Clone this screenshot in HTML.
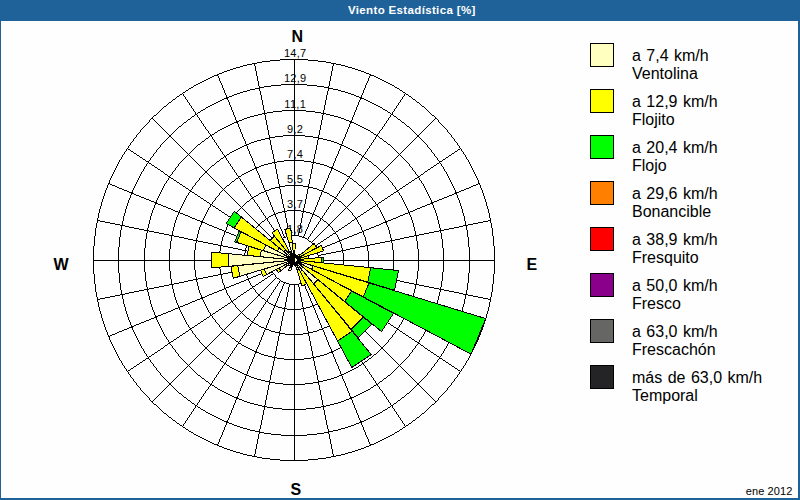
<!DOCTYPE html>
<html><head><meta charset="utf-8"><title>Viento Estadística</title>
<style>
html,body{margin:0;padding:0;}
body{width:800px;height:500px;overflow:hidden;background:#1F6299;font-family:"Liberation Sans",sans-serif;position:relative;}
#panel{position:absolute;left:1px;top:21px;width:797px;height:477px;background:#FDFEFD;}
#title{position:absolute;left:348px;top:3px;width:126px;height:15px;line-height:15px;color:#fff;font-weight:bold;font-size:11.5px;white-space:nowrap;text-align:center;letter-spacing:0.35px;}
svg{position:absolute;left:0;top:0;}
.card{position:absolute;font-weight:bold;font-size:16px;line-height:16px;color:#000;}
.lb{position:absolute;left:590px;width:22px;height:22px;border:1px solid #000;}
.lt{position:absolute;left:632px;font-size:16px;line-height:18px;color:#000;white-space:nowrap;word-spacing:1px;}
#date{position:absolute;right:7.5px;top:485px;letter-spacing:0.1px;font-size:11px;line-height:13px;color:#000;}
</style></head><body>
<div id="panel"></div>
<div id="title">Viento Estadística [%]</div>
<svg width="800" height="500" viewBox="0 0 800 500">
<!-- polar grid: 8 rings + 32 spokes (pixel-exact) -->
<path shape-rendering="crispEdges" fill="#000" d="M280 59h28v1h-28zM270 60h10v1h-10zM308 60h10v1h-10zM262 61h8v1h-8zM318 61h8v1h-8zM257 62h5v1h-5zM326 62h5v1h-5zM252 63h5v1h-5zM331 63h5v1h-5zM247 64h5v1h-5zM336 64h5v1h-5zM243 65h4v1h-4zM341 65h4v1h-4zM240 66h3v1h-3zM345 66h3v1h-3zM236 67h4v1h-4zM348 67h4v1h-4zM233 68h3v1h-3zM352 68h3v1h-3zM230 69h3v1h-3zM355 69h3v1h-3zM227 70h3v1h-3zM358 70h3v1h-3zM224 71h3v1h-3zM361 71h3v1h-3zM222 72h2v1h-2zM364 72h2v1h-2zM219 73h3v1h-3zM366 73h3v1h-3zM217 74h2v1h-2zM369 74h2v1h-2zM214 75h4v1h-4zM370 75h4v1h-4zM212 76h2v1h-2zM374 76h2v1h-2zM210 77h2v1h-2zM376 77h2v1h-2zM208 78h2v1h-2zM378 78h2v1h-2zM206 79h2v1h-2zM380 79h2v1h-2zM204 80h2v1h-2zM382 80h2v1h-2zM202 81h2v1h-2zM384 81h2v1h-2zM200 82h2v1h-2zM386 82h2v1h-2zM198 83h2v1h-2zM388 83h2v1h-2zM196 84h2v1h-2zM281 84h26v1h-26zM390 84h2v1h-2zM194 85h2v1h-2zM271 85h10v1h-10zM307 85h10v1h-10zM392 85h2v1h-2zM264 86h7v1h-7zM317 86h7v1h-7zM191 87h2v1h-2zM259 87h5v1h-5zM324 87h5v1h-5zM395 87h2v1h-2zM189 88h2v1h-2zM255 88h5v1h-5zM328 88h5v1h-5zM397 88h2v1h-2zM250 89h5v1h-5zM333 89h5v1h-5zM186 90h2v1h-2zM247 90h3v1h-3zM338 90h3v1h-3zM400 90h2v1h-2zM243 91h4v1h-4zM341 91h4v1h-4zM183 92h2v1h-2zM240 92h3v1h-3zM345 92h3v1h-3zM403 92h2v1h-2zM237 93h3v1h-3zM348 93h3v1h-3zM180 94h2v1h-2zM234 94h3v1h-3zM351 94h3v1h-3zM406 94h2v1h-2zM232 95h2v1h-2zM354 95h2v1h-2zM177 96h2v1h-2zM229 96h3v1h-3zM356 96h3v1h-3zM409 96h2v1h-2zM226 97h3v1h-3zM359 97h3v1h-3zM224 98h4v1h-4zM360 98h4v1h-4zM173 99h2v1h-2zM222 99h2v1h-2zM364 99h2v1h-2zM413 99h2v1h-2zM220 100h2v1h-2zM366 100h2v1h-2zM218 101h2v1h-2zM368 101h2v1h-2zM169 102h2v1h-2zM216 102h2v1h-2zM370 102h2v1h-2zM417 102h2v1h-2zM214 103h2v1h-2zM372 103h2v1h-2zM212 104h2v1h-2zM374 104h2v1h-2zM210 105h2v1h-2zM376 105h2v1h-2zM164 106h2v1h-2zM208 106h2v1h-2zM378 106h2v1h-2zM422 106h2v1h-2zM206 107h2v1h-2zM380 107h2v1h-2zM203 109h2v1h-2zM383 109h2v1h-2zM201 110h2v1h-2zM282 110h24v1h-24zM385 110h2v1h-2zM273 111h9v1h-9zM306 111h9v1h-9zM198 112h2v1h-2zM267 112h6v1h-6zM315 112h6v1h-6zM388 112h2v1h-2zM262 113h5v1h-5zM321 113h5v1h-5zM195 114h2v1h-2zM258 114h4v1h-4zM326 114h4v1h-4zM391 114h2v1h-2zM154 115h2v1h-2zM254 115h4v1h-4zM330 115h4v1h-4zM432 115h2v1h-2zM192 116h2v1h-2zM250 116h4v1h-4zM334 116h4v1h-4zM394 116h2v1h-2zM247 117h3v1h-3zM338 117h3v1h-3zM151 118h2v1h-2zM244 118h3v1h-3zM341 118h3v1h-3zM435 118h2v1h-2zM188 119h2v1h-2zM242 119h2v1h-2zM344 119h2v1h-2zM398 119h2v1h-2zM239 120h3v1h-3zM346 120h3v1h-3zM236 121h3v1h-3zM349 121h3v1h-3zM184 122h2v1h-2zM234 122h4v1h-4zM350 122h4v1h-4zM402 122h2v1h-2zM232 123h2v1h-2zM354 123h2v1h-2zM230 124h2v1h-2zM356 124h2v1h-2zM228 125h2v1h-2zM358 125h2v1h-2zM179 126h2v1h-2zM226 126h2v1h-2zM360 126h2v1h-2zM407 126h2v1h-2zM224 127h2v1h-2zM362 127h2v1h-2zM222 128h2v1h-2zM364 128h2v1h-2zM220 129h2v1h-2zM366 129h2v1h-2zM218 130h2v1h-2zM368 130h2v1h-2zM215 132h2v1h-2zM371 132h2v1h-2zM212 134h2v1h-2zM374 134h2v1h-2zM169 135h2v1h-2zM210 135h2v1h-2zM283 135h22v1h-22zM376 135h2v1h-2zM417 135h2v1h-2zM169 136h2v1h-2zM275 136h8v1h-8zM305 136h8v1h-8zM417 136h2v1h-2zM269 137h6v1h-6zM313 137h6v1h-6zM206 138h2v1h-2zM265 138h5v1h-5zM318 138h5v1h-5zM380 138h2v1h-2zM261 139h4v1h-4zM323 139h4v1h-4zM257 140h4v1h-4zM327 140h4v1h-4zM202 141h2v1h-2zM254 141h3v1h-3zM331 141h3v1h-3zM384 141h2v1h-2zM251 142h3v1h-3zM334 142h3v1h-3zM249 143h2v1h-2zM337 143h2v1h-2zM198 144h2v1h-2zM246 144h3v1h-3zM339 144h3v1h-3zM388 144h2v1h-2zM244 145h3v1h-3zM341 145h3v1h-3zM242 146h2v1h-2zM344 146h2v1h-2zM240 147h2v1h-2zM346 147h2v1h-2zM238 148h2v1h-2zM348 148h2v1h-2zM128 149h2v1h-2zM236 149h2v1h-2zM350 149h2v1h-2zM458 149h2v1h-2zM234 150h2v1h-2zM352 150h2v1h-2zM131 151h2v1h-2zM232 151h2v1h-2zM354 151h2v1h-2zM455 151h2v1h-2zM230 152h2v1h-2zM356 152h2v1h-2zM134 153h2v1h-2zM452 153h2v1h-2zM227 154h2v1h-2zM359 154h2v1h-2zM137 155h2v1h-2zM449 155h2v1h-2zM224 156h2v1h-2zM362 156h2v1h-2zM140 157h2v1h-2zM446 157h2v1h-2zM221 158h2v1h-2zM365 158h2v1h-2zM143 159h2v1h-2zM443 159h2v1h-2zM284 160h20v1h-20zM146 161h3v1h-3zM217 161h2v1h-2zM277 161h7v1h-7zM304 161h7v1h-7zM369 161h2v1h-2zM439 161h3v1h-3zM272 162h5v1h-5zM311 162h5v1h-5zM149 163h2v1h-2zM268 163h4v1h-4zM316 163h4v1h-4zM437 163h2v1h-2zM264 164h4v1h-4zM320 164h4v1h-4zM152 165h2v1h-2zM212 165h2v1h-2zM261 165h3v1h-3zM324 165h3v1h-3zM374 165h2v1h-2zM434 165h2v1h-2zM259 166h2v1h-2zM327 166h2v1h-2zM155 167h2v1h-2zM255 167h4v1h-4zM329 167h4v1h-4zM431 167h2v1h-2zM254 168h3v1h-3zM331 168h3v1h-3zM158 169h2v1h-2zM252 169h2v1h-2zM334 169h2v1h-2zM428 169h2v1h-2zM250 170h2v1h-2zM336 170h2v1h-2zM161 171h2v1h-2zM205 171h2v1h-2zM248 171h2v1h-2zM338 171h2v1h-2zM381 171h2v1h-2zM425 171h2v1h-2zM205 172h2v1h-2zM246 172h2v1h-2zM340 172h2v1h-2zM381 172h2v1h-2zM244 173h2v1h-2zM342 173h2v1h-2zM165 174h2v1h-2zM242 174h2v1h-2zM344 174h2v1h-2zM421 174h2v1h-2zM168 176h2v1h-2zM238 176h3v1h-3zM347 176h3v1h-3zM418 176h2v1h-2zM169 177h2v1h-2zM417 177h2v1h-2zM171 178h2v1h-2zM236 178h2v1h-2zM350 178h2v1h-2zM415 178h2v1h-2zM174 180h2v1h-2zM412 180h2v1h-2zM232 181h2v1h-2zM354 181h2v1h-2zM177 182h2v1h-2zM409 182h2v1h-2zM108 183h2v1h-2zM478 183h2v1h-2zM110 184h2v1h-2zM180 184h2v1h-2zM406 184h2v1h-2zM476 184h2v1h-2zM112 185h3v1h-3zM227 185h2v1h-2zM285 185h18v1h-18zM359 185h2v1h-2zM473 185h3v1h-3zM115 186h2v1h-2zM183 186h2v1h-2zM279 186h6v1h-6zM303 186h6v1h-6zM403 186h2v1h-2zM471 186h2v1h-2zM117 187h2v1h-2zM275 187h5v1h-5zM308 187h5v1h-5zM469 187h2v1h-2zM119 188h3v1h-3zM186 188h2v1h-2zM271 188h4v1h-4zM313 188h4v1h-4zM400 188h2v1h-2zM466 188h3v1h-3zM122 189h2v1h-2zM269 189h2v1h-2zM317 189h2v1h-2zM464 189h2v1h-2zM124 190h3v1h-3zM189 190h2v1h-2zM265 190h4v1h-4zM319 190h4v1h-4zM397 190h2v1h-2zM461 190h3v1h-3zM127 191h2v1h-2zM190 191h2v1h-2zM264 191h2v1h-2zM322 191h2v1h-2zM396 191h2v1h-2zM459 191h2v1h-2zM129 192h4v1h-4zM192 192h2v1h-2zM261 192h3v1h-3zM324 192h3v1h-3zM394 192h2v1h-2zM455 192h4v1h-4zM131 193h3v1h-3zM259 193h2v1h-2zM327 193h2v1h-2zM454 193h3v1h-3zM134 194h2v1h-2zM195 194h2v1h-2zM391 194h2v1h-2zM452 194h2v1h-2zM136 195h3v1h-3zM256 195h2v1h-2zM330 195h2v1h-2zM449 195h3v1h-3zM139 196h2v1h-2zM198 196h2v1h-2zM254 196h2v1h-2zM332 196h2v1h-2zM388 196h2v1h-2zM447 196h2v1h-2zM141 197h3v1h-3zM252 197h2v1h-2zM334 197h2v1h-2zM444 197h3v1h-3zM144 198h2v1h-2zM201 198h2v1h-2zM251 198h2v1h-2zM335 198h2v1h-2zM385 198h2v1h-2zM442 198h2v1h-2zM146 199h3v1h-3zM439 199h3v1h-3zM149 200h2v1h-2zM204 200h2v1h-2zM382 200h2v1h-2zM437 200h2v1h-2zM151 201h3v1h-3zM247 201h2v1h-2zM339 201h2v1h-2zM434 201h3v1h-3zM154 202h3v1h-3zM207 202h2v1h-2zM379 202h2v1h-2zM431 202h3v1h-3zM155 203h3v1h-3zM430 203h3v1h-3zM158 204h3v1h-3zM210 204h2v1h-2zM376 204h2v1h-2zM427 204h3v1h-3zM161 205h2v1h-2zM425 205h2v1h-2zM163 206h3v1h-3zM213 206h2v1h-2zM373 206h2v1h-2zM422 206h3v1h-3zM166 207h2v1h-2zM420 207h2v1h-2zM168 208h3v1h-3zM216 208h2v1h-2zM370 208h2v1h-2zM417 208h3v1h-3zM171 209h2v1h-2zM415 209h2v1h-2zM173 210h2v1h-2zM219 210h2v1h-2zM287 210h14v1h-14zM367 210h2v1h-2zM413 210h2v1h-2zM175 211h3v1h-3zM282 211h5v1h-5zM301 211h5v1h-5zM410 211h3v1h-3zM178 212h2v1h-2zM222 212h2v1h-2zM278 212h4v1h-4zM306 212h4v1h-4zM364 212h2v1h-2zM408 212h2v1h-2zM180 213h3v1h-3zM276 213h2v1h-2zM310 213h2v1h-2zM405 213h3v1h-3zM183 214h2v1h-2zM225 214h2v1h-2zM273 214h3v1h-3zM312 214h3v1h-3zM361 214h2v1h-2zM403 214h2v1h-2zM185 215h3v1h-3zM271 215h2v1h-2zM315 215h2v1h-2zM400 215h3v1h-3zM188 216h2v1h-2zM228 216h2v1h-2zM269 216h2v1h-2zM317 216h2v1h-2zM358 216h2v1h-2zM398 216h2v1h-2zM190 217h2v1h-2zM396 217h2v1h-2zM192 218h3v1h-3zM231 218h2v1h-2zM266 218h2v1h-2zM320 218h2v1h-2zM355 218h2v1h-2zM393 218h3v1h-3zM195 219h2v1h-2zM391 219h2v1h-2zM97 220h3v1h-3zM197 220h3v1h-3zM234 220h2v1h-2zM352 220h2v1h-2zM388 220h3v1h-3zM488 220h3v1h-3zM100 221h5v1h-5zM200 221h3v1h-3zM262 221h2v1h-2zM324 221h2v1h-2zM385 221h3v1h-3zM483 221h5v1h-5zM105 222h5v1h-5zM201 222h4v1h-4zM383 222h4v1h-4zM478 222h5v1h-5zM110 223h5v1h-5zM205 223h2v1h-2zM238 223h2v1h-2zM348 223h2v1h-2zM381 223h2v1h-2zM473 223h5v1h-5zM115 224h5v1h-5zM207 224h2v1h-2zM258 224h2v1h-2zM328 224h2v1h-2zM379 224h2v1h-2zM468 224h5v1h-5zM120 225h5v1h-5zM209 225h3v1h-3zM241 225h2v1h-2zM258 225h2v1h-2zM328 225h2v1h-2zM345 225h2v1h-2zM376 225h3v1h-3zM463 225h5v1h-5zM125 226h4v1h-4zM212 226h2v1h-2zM374 226h2v1h-2zM459 226h4v1h-4zM129 227h5v1h-5zM214 227h3v1h-3zM244 227h2v1h-2zM342 227h2v1h-2zM371 227h3v1h-3zM454 227h5v1h-5zM134 228h5v1h-5zM217 228h2v1h-2zM369 228h2v1h-2zM449 228h5v1h-5zM139 229h5v1h-5zM219 229h3v1h-3zM247 229h2v1h-2zM339 229h2v1h-2zM366 229h3v1h-3zM444 229h5v1h-5zM144 230h5v1h-5zM222 230h2v1h-2zM364 230h2v1h-2zM439 230h5v1h-5zM149 231h5v1h-5zM224 231h2v1h-2zM250 231h2v1h-2zM336 231h2v1h-2zM362 231h2v1h-2zM434 231h5v1h-5zM154 232h5v1h-5zM226 232h3v1h-3zM359 232h3v1h-3zM429 232h5v1h-5zM159 233h5v1h-5zM229 233h2v1h-2zM252 233h3v1h-3zM333 233h3v1h-3zM357 233h2v1h-2zM424 233h5v1h-5zM164 234h5v1h-5zM231 234h3v1h-3zM354 234h3v1h-3zM419 234h5v1h-5zM169 235h5v1h-5zM234 235h2v1h-2zM256 235h2v1h-2zM289 235h10v1h-10zM330 235h2v1h-2zM352 235h2v1h-2zM414 235h5v1h-5zM174 236h5v1h-5zM236 236h3v1h-3zM286 236h3v1h-3zM299 236h3v1h-3zM349 236h3v1h-3zM409 236h5v1h-5zM179 237h5v1h-5zM239 237h2v1h-2zM259 237h2v1h-2zM283 237h3v1h-3zM302 237h3v1h-3zM327 237h2v1h-2zM347 237h2v1h-2zM404 237h5v1h-5zM184 238h4v1h-4zM241 238h3v1h-3zM281 238h2v1h-2zM305 238h2v1h-2zM344 238h3v1h-3zM400 238h4v1h-4zM188 239h5v1h-5zM244 239h2v1h-2zM262 239h2v1h-2zM324 239h2v1h-2zM342 239h2v1h-2zM395 239h5v1h-5zM193 240h5v1h-5zM246 240h3v1h-3zM339 240h3v1h-3zM390 240h5v1h-5zM198 241h5v1h-5zM248 241h3v1h-3zM265 241h2v1h-2zM277 241h2v1h-2zM309 241h2v1h-2zM321 241h2v1h-2zM337 241h3v1h-3zM385 241h5v1h-5zM203 242h5v1h-5zM251 242h2v1h-2zM335 242h2v1h-2zM380 242h5v1h-5zM208 243h5v1h-5zM253 243h3v1h-3zM268 243h2v1h-2zM318 243h2v1h-2zM332 243h3v1h-3zM375 243h5v1h-5zM213 244h5v1h-5zM256 244h2v1h-2zM330 244h2v1h-2zM370 244h5v1h-5zM218 245h5v1h-5zM258 245h3v1h-3zM271 245h2v1h-2zM315 245h2v1h-2zM327 245h3v1h-3zM365 245h5v1h-5zM223 246h5v1h-5zM261 246h2v1h-2zM325 246h2v1h-2zM360 246h5v1h-5zM228 247h5v1h-5zM263 247h2v1h-2zM323 247h2v1h-2zM355 247h5v1h-5zM233 248h5v1h-5zM265 248h3v1h-3zM320 248h3v1h-3zM350 248h5v1h-5zM238 249h4v1h-4zM268 249h2v1h-2zM318 249h2v1h-2zM346 249h4v1h-4zM242 250h5v1h-5zM270 250h2v1h-2zM316 250h2v1h-2zM341 250h5v1h-5zM247 251h5v1h-5zM336 251h5v1h-5zM252 252h5v1h-5zM331 252h5v1h-5zM257 253h5v1h-5zM326 253h5v1h-5zM262 254h5v1h-5zM321 254h5v1h-5zM267 255h3v1h-3zM318 255h3v1h-3zM93 260h177v1h-177zM318 260h177v1h-177zM267 264h3v1h-3zM318 264h3v1h-3zM262 265h5v1h-5zM321 265h5v1h-5zM257 266h5v1h-5zM326 266h5v1h-5zM252 267h5v1h-5zM331 267h5v1h-5zM247 268h5v1h-5zM336 268h5v1h-5zM242 269h5v1h-5zM270 269h2v1h-2zM316 269h2v1h-2zM341 269h5v1h-5zM238 270h4v1h-4zM268 270h2v1h-2zM318 270h2v1h-2zM346 270h4v1h-4zM233 271h5v1h-5zM265 271h3v1h-3zM320 271h3v1h-3zM350 271h5v1h-5zM228 272h5v1h-5zM263 272h2v1h-2zM323 272h2v1h-2zM355 272h5v1h-5zM223 273h5v1h-5zM261 273h2v1h-2zM325 273h2v1h-2zM360 273h5v1h-5zM218 274h5v1h-5zM258 274h3v1h-3zM271 274h2v1h-2zM315 274h2v1h-2zM327 274h3v1h-3zM365 274h5v1h-5zM213 275h5v1h-5zM256 275h2v1h-2zM330 275h2v1h-2zM370 275h5v1h-5zM208 276h5v1h-5zM253 276h3v1h-3zM268 276h2v1h-2zM318 276h2v1h-2zM332 276h3v1h-3zM375 276h5v1h-5zM203 277h5v1h-5zM251 277h2v1h-2zM335 277h2v1h-2zM380 277h5v1h-5zM198 278h5v1h-5zM248 278h3v1h-3zM265 278h2v1h-2zM277 278h2v1h-2zM309 278h2v1h-2zM321 278h2v1h-2zM337 278h3v1h-3zM385 278h5v1h-5zM193 279h5v1h-5zM246 279h3v1h-3zM339 279h3v1h-3zM390 279h5v1h-5zM188 280h5v1h-5zM244 280h2v1h-2zM262 280h2v1h-2zM324 280h2v1h-2zM342 280h2v1h-2zM395 280h5v1h-5zM184 281h4v1h-4zM241 281h3v1h-3zM281 281h2v1h-2zM305 281h2v1h-2zM344 281h3v1h-3zM400 281h4v1h-4zM179 282h5v1h-5zM239 282h2v1h-2zM259 282h2v1h-2zM283 282h3v1h-3zM302 282h3v1h-3zM327 282h2v1h-2zM347 282h2v1h-2zM404 282h5v1h-5zM174 283h5v1h-5zM236 283h3v1h-3zM286 283h3v1h-3zM299 283h3v1h-3zM349 283h3v1h-3zM409 283h5v1h-5zM169 284h5v1h-5zM234 284h2v1h-2zM256 284h2v1h-2zM289 284h10v1h-10zM330 284h2v1h-2zM352 284h2v1h-2zM414 284h5v1h-5zM164 285h5v1h-5zM231 285h3v1h-3zM354 285h3v1h-3zM419 285h5v1h-5zM159 286h5v1h-5zM229 286h2v1h-2zM252 286h3v1h-3zM333 286h3v1h-3zM357 286h2v1h-2zM424 286h5v1h-5zM154 287h5v1h-5zM226 287h3v1h-3zM359 287h3v1h-3zM429 287h5v1h-5zM149 288h5v1h-5zM224 288h2v1h-2zM250 288h2v1h-2zM336 288h2v1h-2zM362 288h2v1h-2zM434 288h5v1h-5zM144 289h5v1h-5zM222 289h2v1h-2zM364 289h2v1h-2zM439 289h5v1h-5zM139 290h5v1h-5zM219 290h3v1h-3zM247 290h2v1h-2zM339 290h2v1h-2zM366 290h3v1h-3zM444 290h5v1h-5zM134 291h5v1h-5zM217 291h2v1h-2zM369 291h2v1h-2zM449 291h5v1h-5zM129 292h5v1h-5zM214 292h3v1h-3zM244 292h2v1h-2zM342 292h2v1h-2zM371 292h3v1h-3zM454 292h5v1h-5zM125 293h4v1h-4zM212 293h2v1h-2zM374 293h2v1h-2zM459 293h4v1h-4zM120 294h5v1h-5zM209 294h3v1h-3zM241 294h2v1h-2zM258 294h2v1h-2zM328 294h2v1h-2zM345 294h2v1h-2zM376 294h3v1h-3zM463 294h5v1h-5zM115 295h5v1h-5zM207 295h2v1h-2zM258 295h2v1h-2zM328 295h2v1h-2zM379 295h2v1h-2zM468 295h5v1h-5zM110 296h5v1h-5zM205 296h2v1h-2zM238 296h2v1h-2zM348 296h2v1h-2zM381 296h2v1h-2zM473 296h5v1h-5zM105 297h5v1h-5zM201 297h4v1h-4zM383 297h4v1h-4zM478 297h5v1h-5zM100 298h5v1h-5zM200 298h3v1h-3zM262 298h2v1h-2zM324 298h2v1h-2zM385 298h3v1h-3zM483 298h5v1h-5zM97 299h3v1h-3zM197 299h3v1h-3zM234 299h2v1h-2zM352 299h2v1h-2zM388 299h3v1h-3zM488 299h3v1h-3zM195 300h2v1h-2zM391 300h2v1h-2zM192 301h3v1h-3zM231 301h2v1h-2zM266 301h2v1h-2zM320 301h2v1h-2zM355 301h2v1h-2zM393 301h3v1h-3zM190 302h2v1h-2zM396 302h2v1h-2zM188 303h2v1h-2zM228 303h2v1h-2zM269 303h2v1h-2zM317 303h2v1h-2zM358 303h2v1h-2zM398 303h2v1h-2zM185 304h3v1h-3zM271 304h2v1h-2zM315 304h2v1h-2zM400 304h3v1h-3zM183 305h2v1h-2zM225 305h2v1h-2zM273 305h3v1h-3zM312 305h3v1h-3zM361 305h2v1h-2zM403 305h2v1h-2zM180 306h3v1h-3zM276 306h2v1h-2zM310 306h2v1h-2zM405 306h3v1h-3zM178 307h2v1h-2zM222 307h2v1h-2zM278 307h4v1h-4zM306 307h4v1h-4zM364 307h2v1h-2zM408 307h2v1h-2zM175 308h3v1h-3zM282 308h5v1h-5zM301 308h5v1h-5zM410 308h3v1h-3zM173 309h2v1h-2zM219 309h2v1h-2zM287 309h14v1h-14zM367 309h2v1h-2zM413 309h2v1h-2zM171 310h2v1h-2zM415 310h2v1h-2zM168 311h3v1h-3zM216 311h2v1h-2zM370 311h2v1h-2zM417 311h3v1h-3zM166 312h2v1h-2zM420 312h2v1h-2zM163 313h3v1h-3zM213 313h2v1h-2zM373 313h2v1h-2zM422 313h3v1h-3zM161 314h2v1h-2zM425 314h2v1h-2zM158 315h3v1h-3zM210 315h2v1h-2zM376 315h2v1h-2zM427 315h3v1h-3zM155 316h3v1h-3zM430 316h3v1h-3zM154 317h3v1h-3zM207 317h2v1h-2zM379 317h2v1h-2zM431 317h3v1h-3zM151 318h3v1h-3zM247 318h2v1h-2zM339 318h2v1h-2zM434 318h3v1h-3zM149 319h2v1h-2zM204 319h2v1h-2zM382 319h2v1h-2zM437 319h2v1h-2zM146 320h3v1h-3zM439 320h3v1h-3zM144 321h2v1h-2zM201 321h2v1h-2zM251 321h2v1h-2zM335 321h2v1h-2zM385 321h2v1h-2zM442 321h2v1h-2zM141 322h3v1h-3zM252 322h2v1h-2zM334 322h2v1h-2zM444 322h3v1h-3zM139 323h2v1h-2zM198 323h2v1h-2zM254 323h2v1h-2zM332 323h2v1h-2zM388 323h2v1h-2zM447 323h2v1h-2zM136 324h3v1h-3zM256 324h2v1h-2zM330 324h2v1h-2zM449 324h3v1h-3zM134 325h2v1h-2zM195 325h2v1h-2zM391 325h2v1h-2zM452 325h2v1h-2zM131 326h3v1h-3zM259 326h2v1h-2zM327 326h2v1h-2zM454 326h3v1h-3zM129 327h4v1h-4zM192 327h2v1h-2zM261 327h3v1h-3zM324 327h3v1h-3zM394 327h2v1h-2zM455 327h4v1h-4zM127 328h2v1h-2zM190 328h2v1h-2zM264 328h2v1h-2zM322 328h2v1h-2zM396 328h2v1h-2zM459 328h2v1h-2zM124 329h3v1h-3zM189 329h2v1h-2zM265 329h4v1h-4zM319 329h4v1h-4zM397 329h2v1h-2zM461 329h3v1h-3zM122 330h2v1h-2zM269 330h2v1h-2zM317 330h2v1h-2zM464 330h2v1h-2zM119 331h3v1h-3zM186 331h2v1h-2zM271 331h4v1h-4zM313 331h4v1h-4zM400 331h2v1h-2zM466 331h3v1h-3zM117 332h2v1h-2zM275 332h5v1h-5zM308 332h5v1h-5zM469 332h2v1h-2zM115 333h2v1h-2zM183 333h2v1h-2zM279 333h6v1h-6zM303 333h6v1h-6zM403 333h2v1h-2zM471 333h2v1h-2zM112 334h3v1h-3zM227 334h2v1h-2zM285 334h18v1h-18zM359 334h2v1h-2zM473 334h3v1h-3zM110 335h2v1h-2zM180 335h2v1h-2zM406 335h2v1h-2zM476 335h2v1h-2zM108 336h2v1h-2zM478 336h2v1h-2zM177 337h2v1h-2zM409 337h2v1h-2zM232 338h2v1h-2zM354 338h2v1h-2zM174 339h2v1h-2zM412 339h2v1h-2zM171 341h2v1h-2zM236 341h2v1h-2zM350 341h2v1h-2zM415 341h2v1h-2zM169 342h2v1h-2zM417 342h2v1h-2zM168 343h2v1h-2zM238 343h3v1h-3zM347 343h3v1h-3zM418 343h2v1h-2zM165 345h2v1h-2zM242 345h2v1h-2zM344 345h2v1h-2zM421 345h2v1h-2zM244 346h2v1h-2zM342 346h2v1h-2zM205 347h2v1h-2zM246 347h2v1h-2zM340 347h2v1h-2zM381 347h2v1h-2zM161 348h2v1h-2zM205 348h2v1h-2zM248 348h2v1h-2zM338 348h2v1h-2zM381 348h2v1h-2zM425 348h2v1h-2zM250 349h2v1h-2zM336 349h2v1h-2zM158 350h2v1h-2zM252 350h2v1h-2zM334 350h2v1h-2zM428 350h2v1h-2zM254 351h3v1h-3zM331 351h3v1h-3zM155 352h2v1h-2zM255 352h4v1h-4zM329 352h4v1h-4zM431 352h2v1h-2zM259 353h2v1h-2zM327 353h2v1h-2zM152 354h2v1h-2zM212 354h2v1h-2zM261 354h3v1h-3zM324 354h3v1h-3zM374 354h2v1h-2zM434 354h2v1h-2zM264 355h4v1h-4zM320 355h4v1h-4zM149 356h2v1h-2zM268 356h4v1h-4zM316 356h4v1h-4zM437 356h2v1h-2zM272 357h5v1h-5zM311 357h5v1h-5zM146 358h3v1h-3zM217 358h2v1h-2zM277 358h7v1h-7zM304 358h7v1h-7zM369 358h2v1h-2zM439 358h3v1h-3zM284 359h20v1h-20zM143 360h2v1h-2zM443 360h2v1h-2zM221 361h2v1h-2zM365 361h2v1h-2zM140 362h2v1h-2zM446 362h2v1h-2zM224 363h2v1h-2zM362 363h2v1h-2zM137 364h2v1h-2zM449 364h2v1h-2zM227 365h2v1h-2zM359 365h2v1h-2zM134 366h2v1h-2zM452 366h2v1h-2zM230 367h2v1h-2zM356 367h2v1h-2zM131 368h2v1h-2zM232 368h2v1h-2zM354 368h2v1h-2zM455 368h2v1h-2zM234 369h2v1h-2zM352 369h2v1h-2zM128 370h2v1h-2zM236 370h2v1h-2zM350 370h2v1h-2zM458 370h2v1h-2zM238 371h2v1h-2zM348 371h2v1h-2zM240 372h2v1h-2zM346 372h2v1h-2zM242 373h2v1h-2zM344 373h2v1h-2zM244 374h3v1h-3zM341 374h3v1h-3zM198 375h2v1h-2zM246 375h3v1h-3zM339 375h3v1h-3zM388 375h2v1h-2zM249 376h2v1h-2zM337 376h2v1h-2zM251 377h3v1h-3zM334 377h3v1h-3zM202 378h2v1h-2zM254 378h3v1h-3zM331 378h3v1h-3zM384 378h2v1h-2zM257 379h4v1h-4zM327 379h4v1h-4zM261 380h4v1h-4zM323 380h4v1h-4zM206 381h2v1h-2zM265 381h5v1h-5zM318 381h5v1h-5zM380 381h2v1h-2zM269 382h6v1h-6zM313 382h6v1h-6zM169 383h2v1h-2zM275 383h8v1h-8zM305 383h8v1h-8zM417 383h2v1h-2zM169 384h2v1h-2zM210 384h2v1h-2zM283 384h22v1h-22zM376 384h2v1h-2zM417 384h2v1h-2zM212 385h2v1h-2zM374 385h2v1h-2zM215 387h2v1h-2zM371 387h2v1h-2zM218 389h2v1h-2zM368 389h2v1h-2zM220 390h2v1h-2zM366 390h2v1h-2zM222 391h2v1h-2zM364 391h2v1h-2zM224 392h2v1h-2zM362 392h2v1h-2zM179 393h2v1h-2zM226 393h2v1h-2zM360 393h2v1h-2zM407 393h2v1h-2zM228 394h2v1h-2zM358 394h2v1h-2zM230 395h2v1h-2zM356 395h2v1h-2zM232 396h2v1h-2zM354 396h2v1h-2zM184 397h2v1h-2zM234 397h4v1h-4zM350 397h4v1h-4zM402 397h2v1h-2zM236 398h3v1h-3zM349 398h3v1h-3zM239 399h3v1h-3zM346 399h3v1h-3zM188 400h2v1h-2zM242 400h2v1h-2zM344 400h2v1h-2zM398 400h2v1h-2zM151 401h2v1h-2zM244 401h3v1h-3zM341 401h3v1h-3zM435 401h2v1h-2zM247 402h3v1h-3zM338 402h3v1h-3zM192 403h2v1h-2zM250 403h4v1h-4zM334 403h4v1h-4zM394 403h2v1h-2zM154 404h2v1h-2zM254 404h4v1h-4zM330 404h4v1h-4zM432 404h2v1h-2zM195 405h2v1h-2zM258 405h4v1h-4zM326 405h4v1h-4zM391 405h2v1h-2zM262 406h5v1h-5zM321 406h5v1h-5zM198 407h2v1h-2zM267 407h6v1h-6zM315 407h6v1h-6zM388 407h2v1h-2zM273 408h9v1h-9zM306 408h9v1h-9zM201 409h2v1h-2zM282 409h24v1h-24zM385 409h2v1h-2zM203 410h2v1h-2zM383 410h2v1h-2zM206 412h2v1h-2zM380 412h2v1h-2zM164 413h2v1h-2zM208 413h2v1h-2zM378 413h2v1h-2zM422 413h2v1h-2zM210 414h2v1h-2zM376 414h2v1h-2zM212 415h2v1h-2zM374 415h2v1h-2zM214 416h2v1h-2zM372 416h2v1h-2zM169 417h2v1h-2zM216 417h2v1h-2zM370 417h2v1h-2zM417 417h2v1h-2zM218 418h2v1h-2zM368 418h2v1h-2zM220 419h2v1h-2zM366 419h2v1h-2zM173 420h2v1h-2zM222 420h2v1h-2zM364 420h2v1h-2zM413 420h2v1h-2zM224 421h4v1h-4zM360 421h4v1h-4zM226 422h3v1h-3zM359 422h3v1h-3zM177 423h2v1h-2zM229 423h3v1h-3zM356 423h3v1h-3zM409 423h2v1h-2zM232 424h2v1h-2zM354 424h2v1h-2zM180 425h2v1h-2zM234 425h3v1h-3zM351 425h3v1h-3zM406 425h2v1h-2zM237 426h3v1h-3zM348 426h3v1h-3zM183 427h2v1h-2zM240 427h3v1h-3zM345 427h3v1h-3zM403 427h2v1h-2zM243 428h4v1h-4zM341 428h4v1h-4zM186 429h2v1h-2zM247 429h3v1h-3zM338 429h3v1h-3zM400 429h2v1h-2zM250 430h5v1h-5zM333 430h5v1h-5zM189 431h2v1h-2zM255 431h5v1h-5zM328 431h5v1h-5zM397 431h2v1h-2zM191 432h2v1h-2zM259 432h5v1h-5zM324 432h5v1h-5zM395 432h2v1h-2zM264 433h7v1h-7zM317 433h7v1h-7zM194 434h2v1h-2zM271 434h10v1h-10zM307 434h10v1h-10zM392 434h2v1h-2zM196 435h2v1h-2zM281 435h26v1h-26zM390 435h2v1h-2zM198 436h2v1h-2zM388 436h2v1h-2zM200 437h2v1h-2zM386 437h2v1h-2zM202 438h2v1h-2zM384 438h2v1h-2zM204 439h2v1h-2zM382 439h2v1h-2zM206 440h2v1h-2zM380 440h2v1h-2zM208 441h2v1h-2zM378 441h2v1h-2zM210 442h2v1h-2zM376 442h2v1h-2zM212 443h2v1h-2zM374 443h2v1h-2zM214 444h4v1h-4zM370 444h4v1h-4zM217 445h2v1h-2zM369 445h2v1h-2zM219 446h3v1h-3zM366 446h3v1h-3zM222 447h2v1h-2zM364 447h2v1h-2zM224 448h3v1h-3zM361 448h3v1h-3zM227 449h3v1h-3zM358 449h3v1h-3zM230 450h3v1h-3zM355 450h3v1h-3zM233 451h3v1h-3zM352 451h3v1h-3zM236 452h4v1h-4zM348 452h4v1h-4zM240 453h3v1h-3zM345 453h3v1h-3zM243 454h4v1h-4zM341 454h4v1h-4zM247 455h5v1h-5zM336 455h5v1h-5zM252 456h5v1h-5zM331 456h5v1h-5zM257 457h5v1h-5zM326 457h5v1h-5zM262 458h8v1h-8zM318 458h8v1h-8zM270 459h10v1h-10zM308 459h10v1h-10zM280 460h28v1h-28zM93 246h1v14h-1zM93 261h1v13h-1zM94 236h1v10h-1zM94 274h1v10h-1zM95 228h1v8h-1zM95 284h1v8h-1zM96 223h1v5h-1zM96 292h1v5h-1zM97 218h1v2h-1zM97 221h1v2h-1zM97 297h1v2h-1zM97 300h1v2h-1zM98 213h1v5h-1zM98 302h1v5h-1zM99 209h1v4h-1zM99 307h1v4h-1zM100 206h1v3h-1zM100 311h1v3h-1zM101 202h1v4h-1zM101 314h1v4h-1zM102 199h1v3h-1zM102 318h1v3h-1zM103 196h1v3h-1zM103 321h1v3h-1zM104 193h1v3h-1zM104 324h1v3h-1zM105 190h1v3h-1zM105 327h1v3h-1zM106 188h1v2h-1zM106 330h1v2h-1zM107 185h1v3h-1zM107 332h1v3h-1zM108 184h1v1h-1zM108 335h1v1h-1zM109 180h1v3h-1zM109 337h1v3h-1zM110 178h1v2h-1zM110 340h1v2h-1zM111 176h1v2h-1zM111 342h1v2h-1zM112 174h1v2h-1zM112 344h1v2h-1zM113 172h1v2h-1zM113 346h1v2h-1zM114 170h1v2h-1zM114 348h1v2h-1zM115 168h1v2h-1zM115 350h1v2h-1zM116 166h1v2h-1zM116 352h1v2h-1zM117 164h1v2h-1zM117 354h1v2h-1zM118 162h1v2h-1zM118 247h1v13h-1zM118 261h1v12h-1zM118 356h1v2h-1zM119 160h1v2h-1zM119 237h1v10h-1zM119 273h1v10h-1zM119 358h1v2h-1zM120 159h1v1h-1zM120 230h1v7h-1zM120 283h1v7h-1zM120 360h1v1h-1zM121 157h1v2h-1zM121 226h1v4h-1zM121 290h1v4h-1zM121 361h1v2h-1zM122 155h1v2h-1zM122 221h1v4h-1zM122 295h1v4h-1zM122 363h1v2h-1zM123 154h1v1h-1zM123 216h1v5h-1zM123 299h1v5h-1zM123 365h1v1h-1zM124 152h1v2h-1zM124 213h1v3h-1zM124 304h1v3h-1zM124 366h1v2h-1zM125 151h1v1h-1zM125 209h1v4h-1zM125 307h1v4h-1zM125 368h1v1h-1zM126 149h1v2h-1zM126 206h1v3h-1zM126 311h1v3h-1zM126 369h1v2h-1zM127 148h1v1h-1zM127 203h1v3h-1zM127 314h1v3h-1zM127 371h1v1h-1zM128 146h1v2h-1zM128 200h1v3h-1zM128 317h1v3h-1zM128 372h1v2h-1zM129 145h1v1h-1zM129 198h1v2h-1zM129 320h1v2h-1zM129 374h1v1h-1zM130 143h1v2h-1zM130 150h1v1h-1zM130 195h1v3h-1zM130 322h1v3h-1zM130 369h1v1h-1zM130 375h1v2h-1zM131 142h1v1h-1zM131 194h1v1h-1zM131 325h1v1h-1zM131 377h1v1h-1zM132 141h1v1h-1zM132 190h1v2h-1zM132 328h1v2h-1zM132 378h1v1h-1zM133 139h1v2h-1zM133 152h1v1h-1zM133 188h1v2h-1zM133 330h1v2h-1zM133 367h1v1h-1zM133 379h1v2h-1zM134 138h1v1h-1zM134 186h1v2h-1zM134 332h1v2h-1zM134 381h1v1h-1zM135 137h1v1h-1zM135 184h1v2h-1zM135 334h1v2h-1zM135 382h1v1h-1zM136 135h1v2h-1zM136 154h1v1h-1zM136 182h1v2h-1zM136 336h1v2h-1zM136 365h1v1h-1zM136 383h1v2h-1zM137 134h1v1h-1zM137 180h1v2h-1zM137 338h1v2h-1zM137 385h1v1h-1zM138 133h1v1h-1zM138 178h1v2h-1zM138 340h1v2h-1zM138 386h1v1h-1zM139 132h1v1h-1zM139 156h1v1h-1zM139 176h1v2h-1zM139 342h1v2h-1zM139 363h1v1h-1zM139 387h1v1h-1zM140 130h1v2h-1zM140 174h1v2h-1zM140 344h1v2h-1zM140 388h1v2h-1zM141 129h1v1h-1zM141 172h1v2h-1zM141 346h1v2h-1zM141 390h1v1h-1zM142 128h1v1h-1zM142 158h1v1h-1zM142 171h1v1h-1zM142 348h1v1h-1zM142 361h1v1h-1zM142 391h1v1h-1zM143 127h1v1h-1zM143 169h1v2h-1zM143 349h1v2h-1zM143 392h1v1h-1zM144 126h1v1h-1zM144 167h1v2h-1zM144 248h1v12h-1zM144 261h1v11h-1zM144 351h1v2h-1zM144 393h1v1h-1zM145 125h1v1h-1zM145 160h1v1h-1zM145 166h1v1h-1zM145 239h1v9h-1zM145 272h1v9h-1zM145 353h1v1h-1zM145 359h1v1h-1zM145 394h1v1h-1zM146 124h1v1h-1zM146 164h1v2h-1zM146 233h1v6h-1zM146 281h1v6h-1zM146 354h1v2h-1zM146 395h1v1h-1zM147 123h1v1h-1zM147 163h1v1h-1zM147 228h1v2h-1zM147 231h1v2h-1zM147 287h1v2h-1zM147 290h1v2h-1zM147 356h1v1h-1zM147 396h1v1h-1zM148 122h1v1h-1zM148 162h1v1h-1zM148 224h1v4h-1zM148 292h1v4h-1zM148 357h1v1h-1zM148 397h1v1h-1zM149 120h1v2h-1zM149 160h1v1h-1zM149 220h1v4h-1zM149 296h1v4h-1zM149 359h1v1h-1zM149 398h1v2h-1zM150 119h1v1h-1zM150 158h1v2h-1zM150 216h1v4h-1zM150 300h1v4h-1zM150 360h1v2h-1zM150 400h1v1h-1zM151 157h1v1h-1zM151 164h1v1h-1zM151 213h1v3h-1zM151 304h1v3h-1zM151 355h1v1h-1zM151 362h1v1h-1zM152 117h1v1h-1zM152 156h1v1h-1zM152 210h1v3h-1zM152 307h1v3h-1zM152 363h1v1h-1zM152 402h1v1h-1zM153 116h1v1h-1zM153 119h1v1h-1zM153 154h1v2h-1zM153 208h1v2h-1zM153 310h1v2h-1zM153 364h1v2h-1zM153 400h1v1h-1zM153 403h1v1h-1zM154 120h1v1h-1zM154 153h1v1h-1zM154 166h1v1h-1zM154 205h1v3h-1zM154 312h1v3h-1zM154 353h1v1h-1zM154 366h1v1h-1zM154 399h1v1h-1zM155 121h1v1h-1zM155 152h1v1h-1zM155 204h1v1h-1zM155 315h1v1h-1zM155 367h1v1h-1zM155 398h1v1h-1zM156 114h1v1h-1zM156 122h1v1h-1zM156 150h1v2h-1zM156 200h1v2h-1zM156 318h1v2h-1zM156 368h1v2h-1zM156 397h1v1h-1zM156 405h1v1h-1zM157 113h1v1h-1zM157 123h1v1h-1zM157 149h1v1h-1zM157 168h1v1h-1zM157 198h1v2h-1zM157 320h1v2h-1zM157 351h1v1h-1zM157 370h1v1h-1zM157 396h1v1h-1zM157 406h1v1h-1zM158 112h1v1h-1zM158 124h1v1h-1zM158 148h1v1h-1zM158 196h1v2h-1zM158 322h1v2h-1zM158 371h1v1h-1zM158 395h1v1h-1zM158 407h1v1h-1zM159 111h1v1h-1zM159 125h1v1h-1zM159 147h1v1h-1zM159 194h1v2h-1zM159 324h1v2h-1zM159 372h1v1h-1zM159 394h1v1h-1zM159 408h1v1h-1zM160 110h1v1h-1zM160 126h1v1h-1zM160 145h1v2h-1zM160 170h1v1h-1zM160 192h1v2h-1zM160 326h1v2h-1zM160 349h1v1h-1zM160 373h1v2h-1zM160 393h1v1h-1zM160 409h1v1h-1zM161 109h1v1h-1zM161 127h1v1h-1zM161 144h1v1h-1zM161 190h1v2h-1zM161 328h1v2h-1zM161 375h1v1h-1zM161 392h1v1h-1zM161 410h1v1h-1zM162 108h1v1h-1zM162 128h1v1h-1zM162 143h1v1h-1zM162 188h1v2h-1zM162 330h1v2h-1zM162 376h1v1h-1zM162 391h1v1h-1zM162 411h1v1h-1zM163 107h1v1h-1zM163 129h1v1h-1zM163 142h1v1h-1zM163 172h1v1h-1zM163 186h1v2h-1zM163 332h1v2h-1zM163 347h1v1h-1zM163 377h1v1h-1zM163 390h1v1h-1zM163 412h1v1h-1zM164 130h1v1h-1zM164 141h1v1h-1zM164 173h1v1h-1zM164 184h1v2h-1zM164 334h1v2h-1zM164 346h1v1h-1zM164 378h1v1h-1zM164 389h1v1h-1zM165 131h1v1h-1zM165 140h1v1h-1zM165 183h1v1h-1zM165 336h1v1h-1zM165 379h1v1h-1zM165 388h1v1h-1zM166 105h1v1h-1zM166 132h1v1h-1zM166 139h1v1h-1zM166 181h1v2h-1zM166 337h1v2h-1zM166 380h1v1h-1zM166 387h1v1h-1zM166 414h1v1h-1zM167 104h1v1h-1zM167 133h1v1h-1zM167 138h1v1h-1zM167 175h1v1h-1zM167 180h1v1h-1zM167 339h1v1h-1zM167 344h1v1h-1zM167 381h1v1h-1zM167 386h1v1h-1zM167 415h1v1h-1zM168 103h1v1h-1zM168 134h1v1h-1zM168 137h1v1h-1zM168 178h1v2h-1zM168 340h1v2h-1zM168 382h1v1h-1zM168 385h1v1h-1zM168 416h1v1h-1zM169 249h1v11h-1zM169 261h1v10h-1zM170 175h1v1h-1zM170 241h1v8h-1zM170 271h1v8h-1zM170 344h1v1h-1zM171 101h1v1h-1zM171 134h1v1h-1zM171 137h1v1h-1zM171 174h1v1h-1zM171 236h1v5h-1zM171 279h1v5h-1zM171 345h1v1h-1zM171 382h1v1h-1zM171 385h1v1h-1zM171 418h1v1h-1zM172 100h1v1h-1zM172 133h1v1h-1zM172 138h1v1h-1zM172 172h1v2h-1zM172 231h1v4h-1zM172 285h1v4h-1zM172 346h1v2h-1zM172 381h1v1h-1zM172 386h1v1h-1zM172 419h1v1h-1zM173 132h1v1h-1zM173 139h1v1h-1zM173 171h1v1h-1zM173 179h1v1h-1zM173 227h1v4h-1zM173 289h1v4h-1zM173 340h1v1h-1zM173 348h1v1h-1zM173 380h1v1h-1zM173 387h1v1h-1zM174 131h1v1h-1zM174 140h1v1h-1zM174 170h1v1h-1zM174 223h1v4h-1zM174 293h1v4h-1zM174 349h1v1h-1zM174 379h1v1h-1zM174 388h1v1h-1zM175 98h1v1h-1zM175 130h1v1h-1zM175 141h1v1h-1zM175 168h1v2h-1zM175 220h1v3h-1zM175 297h1v3h-1zM175 350h1v2h-1zM175 378h1v1h-1zM175 389h1v1h-1zM175 421h1v1h-1zM176 97h1v1h-1zM176 129h1v1h-1zM176 142h1v1h-1zM176 167h1v1h-1zM176 181h1v1h-1zM176 217h1v3h-1zM176 300h1v3h-1zM176 338h1v1h-1zM176 352h1v1h-1zM176 377h1v1h-1zM176 390h1v1h-1zM176 422h1v1h-1zM177 128h1v1h-1zM177 143h1v1h-1zM177 166h1v1h-1zM177 215h1v2h-1zM177 303h1v2h-1zM177 353h1v1h-1zM177 376h1v1h-1zM177 391h1v1h-1zM178 127h1v1h-1zM178 144h1v1h-1zM178 164h1v2h-1zM178 213h1v2h-1zM178 305h1v2h-1zM178 354h1v2h-1zM178 375h1v1h-1zM178 392h1v1h-1zM179 95h1v1h-1zM179 145h1v1h-1zM179 163h1v1h-1zM179 183h1v1h-1zM179 210h1v2h-1zM179 308h1v2h-1zM179 336h1v1h-1zM179 356h1v1h-1zM179 374h1v1h-1zM179 424h1v1h-1zM180 146h1v1h-1zM180 162h1v1h-1zM180 208h1v2h-1zM180 310h1v2h-1zM180 357h1v1h-1zM180 373h1v1h-1zM181 125h1v1h-1zM181 147h1v1h-1zM181 161h1v1h-1zM181 206h1v2h-1zM181 312h1v2h-1zM181 358h1v1h-1zM181 372h1v1h-1zM181 394h1v1h-1zM182 93h1v1h-1zM182 124h1v1h-1zM182 148h1v1h-1zM182 160h1v1h-1zM182 185h1v1h-1zM182 204h1v2h-1zM182 314h1v2h-1zM182 334h1v1h-1zM182 359h1v1h-1zM182 371h1v1h-1zM182 395h1v1h-1zM182 426h1v1h-1zM183 94h1v2h-1zM183 123h1v1h-1zM183 149h1v1h-1zM183 159h1v1h-1zM183 202h1v2h-1zM183 316h1v2h-1zM183 360h1v1h-1zM183 370h1v1h-1zM183 396h1v1h-1zM183 424h1v2h-1zM184 96h1v1h-1zM184 150h1v1h-1zM184 158h1v1h-1zM184 200h1v2h-1zM184 318h1v2h-1zM184 361h1v1h-1zM184 369h1v1h-1zM184 423h1v1h-1zM185 91h1v1h-1zM185 97h1v2h-1zM185 151h1v1h-1zM185 157h1v1h-1zM185 187h1v1h-1zM185 198h1v2h-1zM185 320h1v2h-1zM185 332h1v1h-1zM185 362h1v1h-1zM185 368h1v1h-1zM185 421h1v2h-1zM185 428h1v1h-1zM186 99h1v1h-1zM186 121h1v1h-1zM186 152h1v1h-1zM186 156h1v1h-1zM186 196h1v2h-1zM186 322h1v2h-1zM186 363h1v1h-1zM186 367h1v1h-1zM186 398h1v1h-1zM186 420h1v1h-1zM187 100h1v2h-1zM187 120h1v1h-1zM187 153h1v1h-1zM187 155h1v1h-1zM187 195h1v1h-1zM187 324h1v1h-1zM187 364h1v1h-1zM187 366h1v1h-1zM187 399h1v1h-1zM187 418h1v2h-1zM188 89h1v1h-1zM188 102h1v1h-1zM188 154h1v1h-1zM188 189h1v1h-1zM188 193h1v2h-1zM188 325h1v2h-1zM188 330h1v1h-1zM188 365h1v1h-1zM188 417h1v1h-1zM188 430h1v1h-1zM189 103h1v2h-1zM189 153h1v1h-1zM189 155h1v1h-1zM189 192h1v1h-1zM189 327h1v1h-1zM189 364h1v1h-1zM189 366h1v1h-1zM189 415h1v2h-1zM190 105h1v1h-1zM190 118h1v1h-1zM190 152h1v1h-1zM190 156h1v1h-1zM190 363h1v1h-1zM190 367h1v1h-1zM190 401h1v1h-1zM190 414h1v1h-1zM191 106h1v2h-1zM191 117h1v1h-1zM191 151h1v1h-1zM191 157h1v1h-1zM191 189h1v1h-1zM191 330h1v1h-1zM191 362h1v1h-1zM191 368h1v1h-1zM191 402h1v1h-1zM191 412h1v2h-1zM192 108h1v1h-1zM192 150h1v1h-1zM192 158h1v1h-1zM192 187h1v2h-1zM192 331h1v2h-1zM192 361h1v1h-1zM192 369h1v1h-1zM192 411h1v1h-1zM193 86h1v1h-1zM193 109h1v2h-1zM193 149h1v1h-1zM193 159h1v1h-1zM193 186h1v1h-1zM193 333h1v1h-1zM193 360h1v1h-1zM193 370h1v1h-1zM193 409h1v2h-1zM193 433h1v1h-1zM194 111h1v1h-1zM194 115h1v1h-1zM194 148h1v1h-1zM194 160h1v1h-1zM194 185h1v1h-1zM194 193h1v1h-1zM194 250h1v10h-1zM194 261h1v9h-1zM194 326h1v1h-1zM194 334h1v1h-1zM194 359h1v1h-1zM194 371h1v1h-1zM194 404h1v1h-1zM194 408h1v1h-1zM195 112h1v2h-1zM195 147h1v1h-1zM195 161h1v1h-1zM195 183h1v2h-1zM195 243h1v7h-1zM195 270h1v7h-1zM195 335h1v2h-1zM195 358h1v1h-1zM195 372h1v1h-1zM195 406h1v2h-1zM196 146h1v1h-1zM196 162h1v1h-1zM196 182h1v1h-1zM196 238h1v2h-1zM196 241h1v2h-1zM196 277h1v2h-1zM196 280h1v2h-1zM196 337h1v1h-1zM196 357h1v1h-1zM196 373h1v1h-1zM197 113h1v1h-1zM197 115h1v2h-1zM197 145h1v1h-1zM197 163h1v1h-1zM197 181h1v1h-1zM197 195h1v1h-1zM197 234h1v4h-1zM197 282h1v4h-1zM197 324h1v1h-1zM197 338h1v1h-1zM197 356h1v1h-1zM197 374h1v1h-1zM197 403h1v2h-1zM197 406h1v1h-1zM198 117h1v1h-1zM198 164h1v1h-1zM198 180h1v1h-1zM198 230h1v4h-1zM198 286h1v4h-1zM198 339h1v1h-1zM198 355h1v1h-1zM198 402h1v1h-1zM199 118h1v2h-1zM199 165h1v1h-1zM199 178h1v2h-1zM199 227h1v3h-1zM199 290h1v3h-1zM199 340h1v2h-1zM199 354h1v1h-1zM199 400h1v2h-1zM200 111h1v1h-1zM200 120h1v1h-1zM200 143h1v1h-1zM200 166h1v1h-1zM200 177h1v1h-1zM200 197h1v1h-1zM200 225h1v2h-1zM200 293h1v2h-1zM200 322h1v1h-1zM200 342h1v1h-1zM200 353h1v1h-1zM200 376h1v1h-1zM200 399h1v1h-1zM200 408h1v1h-1zM201 121h1v2h-1zM201 142h1v1h-1zM201 167h1v1h-1zM201 176h1v1h-1zM201 223h1v2h-1zM201 295h1v2h-1zM201 343h1v1h-1zM201 352h1v1h-1zM201 377h1v1h-1zM201 397h1v2h-1zM202 123h1v1h-1zM202 168h1v1h-1zM202 175h1v1h-1zM202 220h1v1h-1zM202 299h1v1h-1zM202 344h1v1h-1zM202 351h1v1h-1zM202 396h1v1h-1zM203 124h1v2h-1zM203 169h1v1h-1zM203 174h1v1h-1zM203 199h1v1h-1zM203 218h1v2h-1zM203 300h1v2h-1zM203 320h1v1h-1zM203 345h1v1h-1zM203 350h1v1h-1zM203 394h1v2h-1zM204 126h1v1h-1zM204 140h1v1h-1zM204 170h1v1h-1zM204 173h1v1h-1zM204 216h1v2h-1zM204 302h1v2h-1zM204 346h1v1h-1zM204 349h1v1h-1zM204 379h1v1h-1zM204 393h1v1h-1zM205 108h1v1h-1zM205 127h1v2h-1zM205 139h1v1h-1zM205 214h1v2h-1zM205 304h1v2h-1zM205 380h1v1h-1zM205 391h1v2h-1zM205 411h1v1h-1zM206 129h1v1h-1zM206 201h1v1h-1zM206 212h1v2h-1zM206 306h1v2h-1zM206 318h1v1h-1zM206 390h1v1h-1zM207 130h1v1h-1zM207 170h1v1h-1zM207 173h1v1h-1zM207 210h1v2h-1zM207 308h1v2h-1zM207 346h1v1h-1zM207 349h1v1h-1zM207 389h1v1h-1zM208 131h1v2h-1zM208 137h1v1h-1zM208 169h1v1h-1zM208 174h1v1h-1zM208 208h1v2h-1zM208 310h1v2h-1zM208 345h1v1h-1zM208 350h1v1h-1zM208 382h1v1h-1zM208 387h1v2h-1zM209 133h1v1h-1zM209 136h1v1h-1zM209 168h1v1h-1zM209 175h1v1h-1zM209 203h1v1h-1zM209 207h1v1h-1zM209 312h1v1h-1zM209 316h1v1h-1zM209 344h1v1h-1zM209 351h1v1h-1zM209 383h1v1h-1zM209 386h1v1h-1zM210 134h1v1h-1zM210 167h1v1h-1zM210 176h1v1h-1zM210 205h1v2h-1zM210 313h1v2h-1zM210 343h1v1h-1zM210 352h1v1h-1zM210 385h1v1h-1zM211 136h1v1h-1zM211 166h1v1h-1zM211 177h1v1h-1zM211 342h1v1h-1zM211 353h1v1h-1zM211 383h1v1h-1zM212 137h1v2h-1zM212 178h1v1h-1zM212 202h1v2h-1zM212 205h1v1h-1zM212 314h1v1h-1zM212 316h1v2h-1zM212 341h1v1h-1zM212 381h1v2h-1zM213 139h1v1h-1zM213 179h1v1h-1zM213 201h1v1h-1zM213 318h1v1h-1zM213 340h1v1h-1zM213 380h1v1h-1zM214 133h1v1h-1zM214 140h1v2h-1zM214 164h1v1h-1zM214 180h1v1h-1zM214 200h1v1h-1zM214 319h1v1h-1zM214 339h1v1h-1zM214 355h1v1h-1zM214 378h1v2h-1zM214 386h1v1h-1zM215 142h1v1h-1zM215 163h1v1h-1zM215 181h1v1h-1zM215 198h1v2h-1zM215 207h1v1h-1zM215 312h1v1h-1zM215 320h1v2h-1zM215 338h1v1h-1zM215 356h1v1h-1zM215 377h1v1h-1zM216 143h1v2h-1zM216 162h1v1h-1zM216 182h1v1h-1zM216 197h1v1h-1zM216 322h1v1h-1zM216 337h1v1h-1zM216 357h1v1h-1zM216 375h1v2h-1zM217 131h1v1h-1zM217 145h1v1h-1zM217 183h1v1h-1zM217 196h1v1h-1zM217 323h1v1h-1zM217 336h1v1h-1zM217 374h1v1h-1zM217 388h1v1h-1zM218 76h1v2h-1zM218 146h1v2h-1zM218 184h1v1h-1zM218 195h1v1h-1zM218 209h1v1h-1zM218 310h1v1h-1zM218 324h1v1h-1zM218 335h1v1h-1zM218 372h1v2h-1zM218 442h1v2h-1zM219 78h1v3h-1zM219 148h1v1h-1zM219 160h1v1h-1zM219 185h1v1h-1zM219 193h1v2h-1zM219 251h1v9h-1zM219 261h1v8h-1zM219 325h1v2h-1zM219 334h1v1h-1zM219 359h1v1h-1zM219 371h1v1h-1zM219 439h1v3h-1zM220 81h1v2h-1zM220 149h1v2h-1zM220 159h1v1h-1zM220 186h1v1h-1zM220 192h1v1h-1zM220 246h1v5h-1zM220 269h1v5h-1zM220 327h1v1h-1zM220 333h1v1h-1zM220 360h1v1h-1zM220 369h1v2h-1zM220 437h1v2h-1zM221 83h1v2h-1zM221 151h1v1h-1zM221 187h1v1h-1zM221 191h1v1h-1zM221 211h1v1h-1zM221 241h1v4h-1zM221 275h1v4h-1zM221 308h1v1h-1zM221 328h1v1h-1zM221 332h1v1h-1zM221 368h1v1h-1zM221 435h1v2h-1zM222 85h1v3h-1zM222 152h1v2h-1zM222 188h1v1h-1zM222 190h1v1h-1zM222 237h1v4h-1zM222 279h1v4h-1zM222 329h1v1h-1zM222 331h1v1h-1zM222 366h1v2h-1zM222 432h1v3h-1zM223 88h1v2h-1zM223 154h1v1h-1zM223 157h1v1h-1zM223 189h1v1h-1zM223 235h1v2h-1zM223 283h1v2h-1zM223 330h1v1h-1zM223 362h1v1h-1zM223 365h1v1h-1zM223 430h1v2h-1zM224 90h1v3h-1zM224 155h1v1h-1zM224 188h1v1h-1zM224 190h1v1h-1zM224 213h1v1h-1zM224 232h1v3h-1zM224 285h1v3h-1zM224 306h1v1h-1zM224 329h1v1h-1zM224 331h1v1h-1zM224 364h1v1h-1zM224 427h1v3h-1zM225 93h1v2h-1zM225 157h1v1h-1zM225 187h1v1h-1zM225 191h1v1h-1zM225 230h1v1h-1zM225 289h1v1h-1zM225 328h1v1h-1zM225 332h1v1h-1zM225 362h1v1h-1zM225 425h1v2h-1zM226 95h1v2h-1zM226 155h1v1h-1zM226 158h1v2h-1zM226 186h1v1h-1zM226 192h1v1h-1zM226 227h1v3h-1zM226 290h1v3h-1zM226 327h1v1h-1zM226 333h1v1h-1zM226 360h1v2h-1zM226 364h1v1h-1zM226 423h1v2h-1zM227 99h1v1h-1zM227 160h1v1h-1zM227 193h1v1h-1zM227 215h1v1h-1zM227 225h1v2h-1zM227 293h1v2h-1zM227 304h1v1h-1zM227 326h1v1h-1zM227 359h1v1h-1zM227 420h1v1h-1zM228 100h1v2h-1zM228 161h1v2h-1zM228 194h1v1h-1zM228 224h1v1h-1zM228 295h1v1h-1zM228 325h1v1h-1zM228 357h1v2h-1zM228 418h1v2h-1zM229 102h1v3h-1zM229 153h1v1h-1zM229 163h1v1h-1zM229 184h1v1h-1zM229 195h1v1h-1zM229 222h1v2h-1zM229 296h1v2h-1zM229 324h1v1h-1zM229 335h1v1h-1zM229 356h1v1h-1zM229 366h1v1h-1zM229 415h1v3h-1zM230 105h1v2h-1zM230 164h1v2h-1zM230 183h1v1h-1zM230 196h1v1h-1zM230 217h1v1h-1zM230 220h1v2h-1zM230 298h1v2h-1zM230 302h1v1h-1zM230 323h1v1h-1zM230 336h1v1h-1zM230 354h1v2h-1zM230 413h1v2h-1zM231 107h1v3h-1zM231 166h1v1h-1zM231 182h1v1h-1zM231 197h1v1h-1zM231 219h1v1h-1zM231 300h1v1h-1zM231 322h1v1h-1zM231 337h1v1h-1zM231 353h1v1h-1zM231 410h1v3h-1zM232 110h1v2h-1zM232 167h1v2h-1zM232 198h1v1h-1zM232 217h1v1h-1zM232 302h1v1h-1zM232 321h1v1h-1zM232 351h1v2h-1zM232 408h1v2h-1zM233 112h1v3h-1zM233 169h1v1h-1zM233 199h1v1h-1zM233 216h1v1h-1zM233 219h1v1h-1zM233 300h1v1h-1zM233 303h1v1h-1zM233 320h1v1h-1zM233 350h1v1h-1zM233 405h1v3h-1zM234 115h1v2h-1zM234 170h1v2h-1zM234 180h1v1h-1zM234 200h1v1h-1zM234 215h1v1h-1zM234 304h1v1h-1zM234 319h1v1h-1zM234 339h1v1h-1zM234 348h1v2h-1zM234 403h1v2h-1zM235 117h1v3h-1zM235 172h1v1h-1zM235 179h1v1h-1zM235 201h1v1h-1zM235 213h1v2h-1zM235 305h1v2h-1zM235 318h1v1h-1zM235 340h1v1h-1zM235 347h1v1h-1zM235 400h1v3h-1zM236 120h1v1h-1zM236 173h1v2h-1zM236 202h1v1h-1zM236 212h1v1h-1zM236 221h1v1h-1zM236 298h1v1h-1zM236 307h1v1h-1zM236 317h1v1h-1zM236 345h1v2h-1zM236 399h1v1h-1zM237 123h1v1h-1zM237 175h1v1h-1zM237 203h1v1h-1zM237 211h1v1h-1zM237 222h1v1h-1zM237 297h1v1h-1zM237 308h1v1h-1zM237 316h1v1h-1zM237 344h1v1h-1zM237 396h1v1h-1zM238 124h1v3h-1zM238 177h1v1h-1zM238 204h1v1h-1zM238 210h1v1h-1zM238 309h1v1h-1zM238 315h1v1h-1zM238 342h1v1h-1zM238 393h1v3h-1zM239 127h1v2h-1zM239 178h1v1h-1zM239 205h1v1h-1zM239 209h1v1h-1zM239 310h1v1h-1zM239 314h1v1h-1zM239 341h1v1h-1zM239 391h1v2h-1zM240 129h1v3h-1zM240 179h1v2h-1zM240 206h1v1h-1zM240 208h1v1h-1zM240 224h1v1h-1zM240 295h1v1h-1zM240 311h1v1h-1zM240 313h1v1h-1zM240 339h1v2h-1zM240 388h1v3h-1zM241 132h1v2h-1zM241 175h1v1h-1zM241 181h1v1h-1zM241 207h1v1h-1zM241 312h1v1h-1zM241 338h1v1h-1zM241 344h1v1h-1zM241 386h1v2h-1zM242 134h1v3h-1zM242 182h1v2h-1zM242 206h1v1h-1zM242 208h1v1h-1zM242 311h1v1h-1zM242 313h1v1h-1zM242 336h1v2h-1zM242 383h1v3h-1zM243 137h1v2h-1zM243 184h1v1h-1zM243 205h1v1h-1zM243 209h1v1h-1zM243 226h1v1h-1zM243 293h1v1h-1zM243 310h1v1h-1zM243 314h1v1h-1zM243 335h1v1h-1zM243 381h1v2h-1zM244 139h1v2h-1zM244 185h1v2h-1zM244 204h1v1h-1zM244 210h1v1h-1zM244 253h1v7h-1zM244 261h1v6h-1zM244 309h1v1h-1zM244 315h1v1h-1zM244 333h1v2h-1zM244 379h1v2h-1zM245 141h1v3h-1zM245 187h1v1h-1zM245 203h1v1h-1zM245 211h1v1h-1zM245 248h1v2h-1zM245 251h1v2h-1zM245 267h1v2h-1zM245 270h1v2h-1zM245 308h1v1h-1zM245 316h1v1h-1zM245 332h1v1h-1zM245 376h1v3h-1zM246 188h1v2h-1zM246 202h1v1h-1zM246 212h1v1h-1zM246 228h1v1h-1zM246 244h1v4h-1zM246 272h1v4h-1zM246 291h1v1h-1zM246 307h1v1h-1zM246 317h1v1h-1zM246 330h1v2h-1zM247 146h1v3h-1zM247 190h1v1h-1zM247 213h1v1h-1zM247 242h1v2h-1zM247 276h1v2h-1zM247 306h1v1h-1zM247 329h1v1h-1zM247 371h1v3h-1zM248 149h1v2h-1zM248 191h1v2h-1zM248 214h1v1h-1zM248 239h1v1h-1zM248 280h1v1h-1zM248 305h1v1h-1zM248 327h1v2h-1zM248 369h1v2h-1zM249 151h1v3h-1zM249 193h1v1h-1zM249 200h1v1h-1zM249 215h1v1h-1zM249 230h1v1h-1zM249 237h1v2h-1zM249 281h1v2h-1zM249 289h1v1h-1zM249 304h1v1h-1zM249 319h1v1h-1zM249 326h1v1h-1zM249 366h1v3h-1zM250 154h1v2h-1zM250 194h1v2h-1zM250 199h1v1h-1zM250 216h1v1h-1zM250 235h1v2h-1zM250 283h1v2h-1zM250 303h1v1h-1zM250 320h1v1h-1zM250 324h1v2h-1zM250 364h1v2h-1zM251 156h1v2h-1zM251 196h1v1h-1zM251 217h1v1h-1zM251 234h1v1h-1zM251 285h1v1h-1zM251 302h1v1h-1zM251 323h1v1h-1zM251 362h1v2h-1zM252 158h1v3h-1zM252 218h1v1h-1zM252 232h1v1h-1zM252 287h1v1h-1zM252 301h1v1h-1zM252 359h1v3h-1zM253 161h1v2h-1zM253 199h1v1h-1zM253 219h1v1h-1zM253 231h1v1h-1zM253 288h1v1h-1zM253 300h1v1h-1zM253 320h1v1h-1zM253 357h1v2h-1zM254 64h1v2h-1zM254 163h1v3h-1zM254 200h1v2h-1zM254 220h1v1h-1zM254 230h1v1h-1zM254 289h1v1h-1zM254 299h1v1h-1zM254 318h1v2h-1zM254 354h1v3h-1zM254 454h1v2h-1zM255 66h1v5h-1zM255 166h1v1h-1zM255 202h1v1h-1zM255 221h1v1h-1zM255 228h1v2h-1zM255 234h1v1h-1zM255 285h1v1h-1zM255 290h1v2h-1zM255 298h1v1h-1zM255 317h1v1h-1zM255 353h1v1h-1zM255 449h1v5h-1zM256 71h1v5h-1zM256 169h1v2h-1zM256 203h1v1h-1zM256 222h1v1h-1zM256 227h1v1h-1zM256 292h1v1h-1zM256 297h1v1h-1zM256 316h1v1h-1zM256 349h1v2h-1zM256 444h1v5h-1zM257 76h1v5h-1zM257 171h1v2h-1zM257 204h1v2h-1zM257 223h1v1h-1zM257 226h1v1h-1zM257 293h1v1h-1zM257 296h1v1h-1zM257 314h1v2h-1zM257 347h1v2h-1zM257 439h1v5h-1zM258 81h1v5h-1zM258 173h1v2h-1zM258 194h1v1h-1zM258 206h1v1h-1zM258 236h1v1h-1zM258 283h1v1h-1zM258 313h1v1h-1zM258 325h1v1h-1zM258 345h1v2h-1zM258 434h1v5h-1zM259 86h1v1h-1zM259 89h1v2h-1zM259 175h1v3h-1zM259 207h1v2h-1zM259 311h1v2h-1zM259 342h1v3h-1zM259 429h1v2h-1zM259 433h1v1h-1zM260 91h1v4h-1zM260 178h1v2h-1zM260 209h1v1h-1zM260 223h1v1h-1zM260 226h1v1h-1zM260 293h1v1h-1zM260 296h1v1h-1zM260 310h1v1h-1zM260 340h1v2h-1zM260 425h1v4h-1zM261 95h1v5h-1zM261 180h1v3h-1zM261 210h1v2h-1zM261 222h1v1h-1zM261 227h1v1h-1zM261 238h1v1h-1zM261 281h1v1h-1zM261 292h1v1h-1zM261 297h1v1h-1zM261 308h1v2h-1zM261 337h1v3h-1zM261 420h1v5h-1zM262 100h1v5h-1zM262 183h1v2h-1zM262 212h1v1h-1zM262 228h1v1h-1zM262 291h1v1h-1zM262 307h1v1h-1zM262 335h1v2h-1zM262 415h1v5h-1zM263 105h1v5h-1zM263 185h1v3h-1zM263 213h1v2h-1zM263 229h1v1h-1zM263 290h1v1h-1zM263 305h1v2h-1zM263 332h1v3h-1zM263 410h1v5h-1zM264 110h1v3h-1zM264 114h1v1h-1zM264 188h1v2h-1zM264 215h1v1h-1zM264 220h1v1h-1zM264 230h1v1h-1zM264 240h1v1h-1zM264 279h1v1h-1zM264 289h1v1h-1zM264 299h1v1h-1zM264 304h1v1h-1zM264 330h1v2h-1zM264 405h1v1h-1zM264 407h1v3h-1zM265 115h1v5h-1zM265 216h1v2h-1zM265 219h1v1h-1zM265 231h1v1h-1zM265 288h1v1h-1zM265 300h1v1h-1zM265 302h1v2h-1zM265 400h1v5h-1zM266 120h1v5h-1zM266 192h1v3h-1zM266 232h1v1h-1zM266 287h1v1h-1zM266 325h1v3h-1zM266 395h1v5h-1zM267 125h1v5h-1zM267 195h1v2h-1zM267 219h1v2h-1zM267 233h1v1h-1zM267 242h1v1h-1zM267 277h1v1h-1zM267 286h1v1h-1zM267 299h1v2h-1zM267 323h1v2h-1zM267 390h1v5h-1zM268 130h1v5h-1zM268 197h1v3h-1zM268 217h1v1h-1zM268 221h1v1h-1zM268 234h1v1h-1zM268 285h1v1h-1zM268 298h1v1h-1zM268 302h1v1h-1zM268 320h1v3h-1zM268 385h1v5h-1zM269 135h1v2h-1zM269 139h1v1h-1zM269 200h1v2h-1zM269 222h1v2h-1zM269 235h1v1h-1zM269 256h1v4h-1zM269 261h1v3h-1zM269 284h1v1h-1zM269 296h1v2h-1zM269 318h1v2h-1zM269 380h1v1h-1zM269 383h1v2h-1zM270 140h1v5h-1zM270 202h1v3h-1zM270 224h1v1h-1zM270 236h1v1h-1zM270 244h1v1h-1zM270 252h1v3h-1zM270 265h1v3h-1zM270 275h1v1h-1zM270 283h1v1h-1zM270 295h1v1h-1zM270 315h1v3h-1zM270 375h1v5h-1zM271 145h1v5h-1zM271 205h1v2h-1zM271 225h1v2h-1zM271 237h1v1h-1zM271 249h1v1h-1zM271 251h1v1h-1zM271 268h1v1h-1zM271 270h1v1h-1zM271 282h1v1h-1zM271 293h1v2h-1zM271 313h1v2h-1zM271 370h1v5h-1zM272 150h1v4h-1zM272 207h1v3h-1zM272 227h1v1h-1zM272 238h1v1h-1zM272 247h1v2h-1zM272 271h1v2h-1zM272 281h1v1h-1zM272 292h1v1h-1zM272 310h1v3h-1zM272 366h1v4h-1zM273 154h1v5h-1zM273 210h1v2h-1zM273 228h1v2h-1zM273 239h1v1h-1zM273 246h1v1h-1zM273 273h1v1h-1zM273 280h1v1h-1zM273 290h1v2h-1zM273 308h1v2h-1zM273 361h1v5h-1zM274 159h1v3h-1zM274 163h1v1h-1zM274 212h1v2h-1zM274 230h1v1h-1zM274 240h1v1h-1zM274 245h1v1h-1zM274 274h1v1h-1zM274 279h1v1h-1zM274 289h1v1h-1zM274 306h1v2h-1zM274 356h1v1h-1zM274 358h1v3h-1zM275 164h1v5h-1zM275 215h1v2h-1zM275 231h1v2h-1zM275 241h1v1h-1zM275 243h1v2h-1zM275 275h1v2h-1zM275 278h1v1h-1zM275 287h1v2h-1zM275 303h1v2h-1zM275 351h1v5h-1zM276 169h1v5h-1zM276 217h1v2h-1zM276 233h1v1h-1zM276 242h1v1h-1zM276 277h1v1h-1zM276 286h1v1h-1zM276 301h1v2h-1zM276 346h1v5h-1zM277 174h1v5h-1zM277 219h1v3h-1zM277 234h1v2h-1zM277 284h1v2h-1zM277 298h1v3h-1zM277 341h1v5h-1zM278 179h1v5h-1zM278 222h1v2h-1zM278 236h1v1h-1zM278 283h1v1h-1zM278 296h1v2h-1zM278 336h1v5h-1zM279 184h1v2h-1zM279 188h1v1h-1zM279 224h1v3h-1zM279 237h1v2h-1zM279 240h1v1h-1zM279 279h1v1h-1zM279 281h1v2h-1zM279 293h1v3h-1zM279 331h1v1h-1zM279 334h1v2h-1zM280 189h1v5h-1zM280 227h1v2h-1zM280 239h1v1h-1zM280 280h1v1h-1zM280 291h1v2h-1zM280 326h1v5h-1zM281 194h1v5h-1zM281 229h1v2h-1zM281 289h1v2h-1zM281 321h1v5h-1zM282 199h1v5h-1zM282 231h1v3h-1zM282 286h1v3h-1zM282 316h1v5h-1zM283 204h1v4h-1zM283 234h1v2h-1zM283 284h1v2h-1zM283 312h1v4h-1zM284 208h1v3h-1zM284 212h1v1h-1zM284 236h1v1h-1zM284 283h1v1h-1zM284 307h1v1h-1zM284 309h1v3h-1zM285 213h1v5h-1zM285 302h1v5h-1zM286 218h1v5h-1zM286 297h1v5h-1zM287 223h1v5h-1zM287 292h1v5h-1zM288 228h1v5h-1zM288 287h1v5h-1zM289 233h1v2h-1zM289 285h1v2h-1zM294 60h1v24h-1zM294 85h1v25h-1zM294 111h1v24h-1zM294 136h1v24h-1zM294 161h1v24h-1zM294 186h1v24h-1zM294 211h1v24h-1zM294 285h1v24h-1zM294 310h1v24h-1zM294 335h1v24h-1zM294 360h1v24h-1zM294 385h1v24h-1zM294 410h1v25h-1zM294 436h1v24h-1zM298 233h1v2h-1zM298 285h1v2h-1zM299 228h1v5h-1zM299 287h1v5h-1zM300 223h1v5h-1zM300 292h1v5h-1zM301 218h1v5h-1zM301 297h1v5h-1zM302 213h1v5h-1zM302 302h1v5h-1zM303 208h1v3h-1zM303 212h1v1h-1zM303 236h1v1h-1zM303 283h1v1h-1zM303 307h1v1h-1zM303 309h1v3h-1zM304 204h1v4h-1zM304 234h1v2h-1zM304 284h1v2h-1zM304 312h1v4h-1zM305 199h1v5h-1zM305 231h1v3h-1zM305 286h1v3h-1zM305 316h1v5h-1zM306 194h1v5h-1zM306 229h1v2h-1zM306 289h1v2h-1zM306 321h1v5h-1zM307 189h1v5h-1zM307 227h1v2h-1zM307 239h1v1h-1zM307 280h1v1h-1zM307 291h1v2h-1zM307 326h1v5h-1zM308 184h1v2h-1zM308 188h1v1h-1zM308 224h1v3h-1zM308 237h1v2h-1zM308 240h1v1h-1zM308 279h1v1h-1zM308 281h1v2h-1zM308 293h1v3h-1zM308 331h1v1h-1zM308 334h1v2h-1zM309 179h1v5h-1zM309 222h1v2h-1zM309 236h1v1h-1zM309 283h1v1h-1zM309 296h1v2h-1zM309 336h1v5h-1zM310 174h1v5h-1zM310 219h1v3h-1zM310 234h1v2h-1zM310 284h1v2h-1zM310 298h1v3h-1zM310 341h1v5h-1zM311 169h1v5h-1zM311 217h1v2h-1zM311 233h1v1h-1zM311 242h1v1h-1zM311 277h1v1h-1zM311 286h1v1h-1zM311 301h1v2h-1zM311 346h1v5h-1zM312 164h1v5h-1zM312 215h1v2h-1zM312 231h1v2h-1zM312 241h1v1h-1zM312 243h1v2h-1zM312 275h1v2h-1zM312 278h1v1h-1zM312 287h1v2h-1zM312 303h1v2h-1zM312 351h1v5h-1zM313 159h1v3h-1zM313 163h1v1h-1zM313 212h1v2h-1zM313 230h1v1h-1zM313 240h1v1h-1zM313 245h1v1h-1zM313 274h1v1h-1zM313 279h1v1h-1zM313 289h1v1h-1zM313 306h1v2h-1zM313 356h1v1h-1zM313 358h1v3h-1zM314 154h1v5h-1zM314 210h1v2h-1zM314 228h1v2h-1zM314 239h1v1h-1zM314 246h1v1h-1zM314 273h1v1h-1zM314 280h1v1h-1zM314 290h1v2h-1zM314 308h1v2h-1zM314 361h1v5h-1zM315 150h1v4h-1zM315 207h1v3h-1zM315 227h1v1h-1zM315 238h1v1h-1zM315 247h1v2h-1zM315 271h1v2h-1zM315 281h1v1h-1zM315 292h1v1h-1zM315 310h1v3h-1zM315 366h1v4h-1zM316 145h1v5h-1zM316 205h1v2h-1zM316 225h1v2h-1zM316 237h1v1h-1zM316 249h1v1h-1zM316 251h1v1h-1zM316 268h1v1h-1zM316 270h1v1h-1zM316 282h1v1h-1zM316 293h1v2h-1zM316 313h1v2h-1zM316 370h1v5h-1zM317 140h1v5h-1zM317 202h1v3h-1zM317 224h1v1h-1zM317 236h1v1h-1zM317 244h1v1h-1zM317 252h1v3h-1zM317 265h1v3h-1zM317 275h1v1h-1zM317 283h1v1h-1zM317 295h1v1h-1zM317 315h1v3h-1zM317 375h1v5h-1zM318 135h1v2h-1zM318 139h1v1h-1zM318 200h1v2h-1zM318 222h1v2h-1zM318 235h1v1h-1zM318 256h1v4h-1zM318 261h1v3h-1zM318 284h1v1h-1zM318 296h1v2h-1zM318 318h1v2h-1zM318 380h1v1h-1zM318 383h1v2h-1zM319 130h1v5h-1zM319 197h1v3h-1zM319 217h1v1h-1zM319 221h1v1h-1zM319 234h1v1h-1zM319 285h1v1h-1zM319 298h1v1h-1zM319 302h1v1h-1zM319 320h1v3h-1zM319 385h1v5h-1zM320 125h1v5h-1zM320 195h1v2h-1zM320 219h1v2h-1zM320 233h1v1h-1zM320 242h1v1h-1zM320 277h1v1h-1zM320 286h1v1h-1zM320 299h1v2h-1zM320 323h1v2h-1zM320 390h1v5h-1zM321 120h1v5h-1zM321 192h1v3h-1zM321 232h1v1h-1zM321 287h1v1h-1zM321 325h1v3h-1zM321 395h1v5h-1zM322 115h1v5h-1zM322 216h1v2h-1zM322 219h1v1h-1zM322 231h1v1h-1zM322 288h1v1h-1zM322 300h1v1h-1zM322 302h1v2h-1zM322 400h1v5h-1zM323 110h1v3h-1zM323 114h1v1h-1zM323 188h1v2h-1zM323 215h1v1h-1zM323 220h1v1h-1zM323 230h1v1h-1zM323 240h1v1h-1zM323 279h1v1h-1zM323 289h1v1h-1zM323 299h1v1h-1zM323 304h1v1h-1zM323 330h1v2h-1zM323 405h1v1h-1zM323 407h1v3h-1zM324 105h1v5h-1zM324 185h1v3h-1zM324 213h1v2h-1zM324 229h1v1h-1zM324 290h1v1h-1zM324 305h1v2h-1zM324 332h1v3h-1zM324 410h1v5h-1zM325 100h1v5h-1zM325 183h1v2h-1zM325 212h1v1h-1zM325 228h1v1h-1zM325 291h1v1h-1zM325 307h1v1h-1zM325 335h1v2h-1zM325 415h1v5h-1zM326 95h1v5h-1zM326 180h1v3h-1zM326 210h1v2h-1zM326 222h1v1h-1zM326 227h1v1h-1zM326 238h1v1h-1zM326 281h1v1h-1zM326 292h1v1h-1zM326 297h1v1h-1zM326 308h1v2h-1zM326 337h1v3h-1zM326 420h1v5h-1zM327 91h1v4h-1zM327 178h1v2h-1zM327 209h1v1h-1zM327 223h1v1h-1zM327 226h1v1h-1zM327 293h1v1h-1zM327 296h1v1h-1zM327 310h1v1h-1zM327 340h1v2h-1zM327 425h1v4h-1zM328 86h1v1h-1zM328 89h1v2h-1zM328 175h1v3h-1zM328 207h1v2h-1zM328 311h1v2h-1zM328 342h1v3h-1zM328 429h1v2h-1zM328 433h1v1h-1zM329 81h1v5h-1zM329 173h1v2h-1zM329 194h1v1h-1zM329 206h1v1h-1zM329 236h1v1h-1zM329 283h1v1h-1zM329 313h1v1h-1zM329 325h1v1h-1zM329 345h1v2h-1zM329 434h1v5h-1zM330 76h1v5h-1zM330 171h1v2h-1zM330 204h1v2h-1zM330 223h1v1h-1zM330 226h1v1h-1zM330 293h1v1h-1zM330 296h1v1h-1zM330 314h1v2h-1zM330 347h1v2h-1zM330 439h1v5h-1zM331 71h1v5h-1zM331 169h1v2h-1zM331 203h1v1h-1zM331 222h1v1h-1zM331 227h1v1h-1zM331 292h1v1h-1zM331 297h1v1h-1zM331 316h1v1h-1zM331 349h1v2h-1zM331 444h1v5h-1zM332 66h1v5h-1zM332 166h1v1h-1zM332 202h1v1h-1zM332 221h1v1h-1zM332 228h1v2h-1zM332 234h1v1h-1zM332 285h1v1h-1zM332 290h1v2h-1zM332 298h1v1h-1zM332 317h1v1h-1zM332 353h1v1h-1zM332 449h1v5h-1zM333 64h1v2h-1zM333 163h1v3h-1zM333 200h1v2h-1zM333 220h1v1h-1zM333 230h1v1h-1zM333 289h1v1h-1zM333 299h1v1h-1zM333 318h1v2h-1zM333 354h1v3h-1zM333 454h1v2h-1zM334 161h1v2h-1zM334 199h1v1h-1zM334 219h1v1h-1zM334 231h1v1h-1zM334 288h1v1h-1zM334 300h1v1h-1zM334 320h1v1h-1zM334 357h1v2h-1zM335 158h1v3h-1zM335 218h1v1h-1zM335 232h1v1h-1zM335 287h1v1h-1zM335 301h1v1h-1zM335 359h1v3h-1zM336 156h1v2h-1zM336 196h1v1h-1zM336 217h1v1h-1zM336 234h1v1h-1zM336 285h1v1h-1zM336 302h1v1h-1zM336 323h1v1h-1zM336 362h1v2h-1zM337 154h1v2h-1zM337 194h1v2h-1zM337 199h1v1h-1zM337 216h1v1h-1zM337 235h1v2h-1zM337 283h1v2h-1zM337 303h1v1h-1zM337 320h1v1h-1zM337 324h1v2h-1zM337 364h1v2h-1zM338 151h1v3h-1zM338 193h1v1h-1zM338 200h1v1h-1zM338 215h1v1h-1zM338 230h1v1h-1zM338 237h1v2h-1zM338 281h1v2h-1zM338 289h1v1h-1zM338 304h1v1h-1zM338 319h1v1h-1zM338 326h1v1h-1zM338 366h1v3h-1zM339 149h1v2h-1zM339 191h1v2h-1zM339 214h1v1h-1zM339 239h1v1h-1zM339 280h1v1h-1zM339 305h1v1h-1zM339 327h1v2h-1zM339 369h1v2h-1zM340 146h1v3h-1zM340 190h1v1h-1zM340 213h1v1h-1zM340 242h1v2h-1zM340 276h1v2h-1zM340 306h1v1h-1zM340 329h1v1h-1zM340 371h1v3h-1zM341 188h1v2h-1zM341 202h1v1h-1zM341 212h1v1h-1zM341 228h1v1h-1zM341 244h1v4h-1zM341 272h1v4h-1zM341 291h1v1h-1zM341 307h1v1h-1zM341 317h1v1h-1zM341 330h1v2h-1zM342 141h1v3h-1zM342 187h1v1h-1zM342 203h1v1h-1zM342 211h1v1h-1zM342 248h1v2h-1zM342 251h1v2h-1zM342 267h1v2h-1zM342 270h1v2h-1zM342 308h1v1h-1zM342 316h1v1h-1zM342 332h1v1h-1zM342 376h1v3h-1zM343 139h1v2h-1zM343 185h1v2h-1zM343 204h1v1h-1zM343 210h1v1h-1zM343 253h1v7h-1zM343 261h1v6h-1zM343 309h1v1h-1zM343 315h1v1h-1zM343 333h1v2h-1zM343 379h1v2h-1zM344 137h1v2h-1zM344 184h1v1h-1zM344 205h1v1h-1zM344 209h1v1h-1zM344 226h1v1h-1zM344 293h1v1h-1zM344 310h1v1h-1zM344 314h1v1h-1zM344 335h1v1h-1zM344 381h1v2h-1zM345 134h1v3h-1zM345 182h1v2h-1zM345 206h1v1h-1zM345 208h1v1h-1zM345 311h1v1h-1zM345 313h1v1h-1zM345 336h1v2h-1zM345 383h1v3h-1zM346 132h1v2h-1zM346 175h1v1h-1zM346 181h1v1h-1zM346 207h1v1h-1zM346 312h1v1h-1zM346 338h1v1h-1zM346 344h1v1h-1zM346 386h1v2h-1zM347 129h1v3h-1zM347 179h1v2h-1zM347 206h1v1h-1zM347 208h1v1h-1zM347 224h1v1h-1zM347 295h1v1h-1zM347 311h1v1h-1zM347 313h1v1h-1zM347 339h1v2h-1zM347 388h1v3h-1zM348 127h1v2h-1zM348 178h1v1h-1zM348 205h1v1h-1zM348 209h1v1h-1zM348 310h1v1h-1zM348 314h1v1h-1zM348 341h1v1h-1zM348 391h1v2h-1zM349 124h1v3h-1zM349 177h1v1h-1zM349 204h1v1h-1zM349 210h1v1h-1zM349 309h1v1h-1zM349 315h1v1h-1zM349 342h1v1h-1zM349 393h1v3h-1zM350 123h1v1h-1zM350 175h1v1h-1zM350 203h1v1h-1zM350 211h1v1h-1zM350 222h1v1h-1zM350 297h1v1h-1zM350 308h1v1h-1zM350 316h1v1h-1zM350 344h1v1h-1zM350 396h1v1h-1zM351 120h1v1h-1zM351 173h1v2h-1zM351 202h1v1h-1zM351 212h1v1h-1zM351 221h1v1h-1zM351 298h1v1h-1zM351 307h1v1h-1zM351 317h1v1h-1zM351 345h1v2h-1zM351 399h1v1h-1zM352 117h1v3h-1zM352 172h1v1h-1zM352 179h1v1h-1zM352 201h1v1h-1zM352 213h1v2h-1zM352 305h1v2h-1zM352 318h1v1h-1zM352 340h1v1h-1zM352 347h1v1h-1zM352 400h1v3h-1zM353 115h1v2h-1zM353 170h1v2h-1zM353 180h1v1h-1zM353 200h1v1h-1zM353 215h1v1h-1zM353 304h1v1h-1zM353 319h1v1h-1zM353 339h1v1h-1zM353 348h1v2h-1zM353 403h1v2h-1zM354 112h1v3h-1zM354 169h1v1h-1zM354 199h1v1h-1zM354 216h1v1h-1zM354 219h1v1h-1zM354 300h1v1h-1zM354 303h1v1h-1zM354 320h1v1h-1zM354 350h1v1h-1zM354 405h1v3h-1zM355 110h1v2h-1zM355 167h1v2h-1zM355 198h1v1h-1zM355 217h1v1h-1zM355 302h1v1h-1zM355 321h1v1h-1zM355 351h1v2h-1zM355 408h1v2h-1zM356 107h1v3h-1zM356 166h1v1h-1zM356 182h1v1h-1zM356 197h1v1h-1zM356 219h1v1h-1zM356 300h1v1h-1zM356 322h1v1h-1zM356 337h1v1h-1zM356 353h1v1h-1zM356 410h1v3h-1zM357 105h1v2h-1zM357 164h1v2h-1zM357 183h1v1h-1zM357 196h1v1h-1zM357 217h1v1h-1zM357 220h1v2h-1zM357 298h1v2h-1zM357 302h1v1h-1zM357 323h1v1h-1zM357 336h1v1h-1zM357 354h1v2h-1zM357 413h1v2h-1zM358 102h1v3h-1zM358 153h1v1h-1zM358 163h1v1h-1zM358 184h1v1h-1zM358 195h1v1h-1zM358 222h1v2h-1zM358 296h1v2h-1zM358 324h1v1h-1zM358 335h1v1h-1zM358 356h1v1h-1zM358 366h1v1h-1zM358 415h1v3h-1zM359 100h1v2h-1zM359 161h1v2h-1zM359 194h1v1h-1zM359 224h1v1h-1zM359 295h1v1h-1zM359 325h1v1h-1zM359 357h1v2h-1zM359 418h1v2h-1zM360 99h1v1h-1zM360 160h1v1h-1zM360 193h1v1h-1zM360 215h1v1h-1zM360 225h1v2h-1zM360 293h1v2h-1zM360 304h1v1h-1zM360 326h1v1h-1zM360 359h1v1h-1zM360 420h1v1h-1zM361 95h1v2h-1zM361 155h1v1h-1zM361 158h1v2h-1zM361 186h1v1h-1zM361 192h1v1h-1zM361 227h1v3h-1zM361 290h1v3h-1zM361 327h1v1h-1zM361 333h1v1h-1zM361 360h1v2h-1zM361 364h1v1h-1zM361 423h1v2h-1zM362 93h1v2h-1zM362 157h1v1h-1zM362 187h1v1h-1zM362 191h1v1h-1zM362 230h1v1h-1zM362 289h1v1h-1zM362 328h1v1h-1zM362 332h1v1h-1zM362 362h1v1h-1zM362 425h1v2h-1zM363 90h1v3h-1zM363 155h1v1h-1zM363 188h1v1h-1zM363 190h1v1h-1zM363 213h1v1h-1zM363 232h1v3h-1zM363 285h1v3h-1zM363 306h1v1h-1zM363 329h1v1h-1zM363 331h1v1h-1zM363 364h1v1h-1zM363 427h1v3h-1zM364 88h1v2h-1zM364 154h1v1h-1zM364 157h1v1h-1zM364 189h1v1h-1zM364 235h1v2h-1zM364 283h1v2h-1zM364 330h1v1h-1zM364 362h1v1h-1zM364 365h1v1h-1zM364 430h1v2h-1zM365 85h1v3h-1zM365 152h1v2h-1zM365 188h1v1h-1zM365 190h1v1h-1zM365 237h1v4h-1zM365 279h1v4h-1zM365 329h1v1h-1zM365 331h1v1h-1zM365 366h1v2h-1zM365 432h1v3h-1zM366 83h1v2h-1zM366 151h1v1h-1zM366 187h1v1h-1zM366 191h1v1h-1zM366 211h1v1h-1zM366 241h1v4h-1zM366 275h1v4h-1zM366 308h1v1h-1zM366 328h1v1h-1zM366 332h1v1h-1zM366 368h1v1h-1zM366 435h1v2h-1zM367 81h1v2h-1zM367 149h1v2h-1zM367 159h1v1h-1zM367 186h1v1h-1zM367 192h1v1h-1zM367 246h1v5h-1zM367 269h1v5h-1zM367 327h1v1h-1zM367 333h1v1h-1zM367 360h1v1h-1zM367 369h1v2h-1zM367 437h1v2h-1zM368 78h1v3h-1zM368 148h1v1h-1zM368 160h1v1h-1zM368 185h1v1h-1zM368 193h1v2h-1zM368 251h1v9h-1zM368 261h1v8h-1zM368 325h1v2h-1zM368 334h1v1h-1zM368 359h1v1h-1zM368 371h1v1h-1zM368 439h1v3h-1zM369 76h1v2h-1zM369 146h1v2h-1zM369 184h1v1h-1zM369 195h1v1h-1zM369 209h1v1h-1zM369 310h1v1h-1zM369 324h1v1h-1zM369 335h1v1h-1zM369 372h1v2h-1zM369 442h1v2h-1zM370 131h1v1h-1zM370 145h1v1h-1zM370 183h1v1h-1zM370 196h1v1h-1zM370 323h1v1h-1zM370 336h1v1h-1zM370 374h1v1h-1zM370 388h1v1h-1zM371 143h1v2h-1zM371 162h1v1h-1zM371 182h1v1h-1zM371 197h1v1h-1zM371 322h1v1h-1zM371 337h1v1h-1zM371 357h1v1h-1zM371 375h1v2h-1zM372 142h1v1h-1zM372 163h1v1h-1zM372 181h1v1h-1zM372 198h1v2h-1zM372 207h1v1h-1zM372 312h1v1h-1zM372 320h1v2h-1zM372 338h1v1h-1zM372 356h1v1h-1zM372 377h1v1h-1zM373 133h1v1h-1zM373 140h1v2h-1zM373 164h1v1h-1zM373 180h1v1h-1zM373 200h1v1h-1zM373 319h1v1h-1zM373 339h1v1h-1zM373 355h1v1h-1zM373 378h1v2h-1zM373 386h1v1h-1zM374 139h1v1h-1zM374 179h1v1h-1zM374 201h1v1h-1zM374 318h1v1h-1zM374 340h1v1h-1zM374 380h1v1h-1zM375 137h1v2h-1zM375 178h1v1h-1zM375 202h1v2h-1zM375 205h1v1h-1zM375 314h1v1h-1zM375 316h1v2h-1zM375 341h1v1h-1zM375 381h1v2h-1zM376 136h1v1h-1zM376 166h1v1h-1zM376 177h1v1h-1zM376 342h1v1h-1zM376 353h1v1h-1zM376 383h1v1h-1zM377 134h1v1h-1zM377 167h1v1h-1zM377 176h1v1h-1zM377 205h1v2h-1zM377 313h1v2h-1zM377 343h1v1h-1zM377 352h1v1h-1zM377 385h1v1h-1zM378 133h1v1h-1zM378 136h1v1h-1zM378 168h1v1h-1zM378 175h1v1h-1zM378 203h1v1h-1zM378 207h1v1h-1zM378 312h1v1h-1zM378 316h1v1h-1zM378 344h1v1h-1zM378 351h1v1h-1zM378 383h1v1h-1zM378 386h1v1h-1zM379 131h1v2h-1zM379 137h1v1h-1zM379 169h1v1h-1zM379 174h1v1h-1zM379 208h1v2h-1zM379 310h1v2h-1zM379 345h1v1h-1zM379 350h1v1h-1zM379 382h1v1h-1zM379 387h1v2h-1zM380 130h1v1h-1zM380 170h1v1h-1zM380 173h1v1h-1zM380 210h1v2h-1zM380 308h1v2h-1zM380 346h1v1h-1zM380 349h1v1h-1zM380 389h1v1h-1zM381 129h1v1h-1zM381 201h1v1h-1zM381 212h1v2h-1zM381 306h1v2h-1zM381 318h1v1h-1zM381 390h1v1h-1zM382 108h1v1h-1zM382 127h1v2h-1zM382 139h1v1h-1zM382 214h1v2h-1zM382 304h1v2h-1zM382 380h1v1h-1zM382 391h1v2h-1zM382 411h1v1h-1zM383 126h1v1h-1zM383 140h1v1h-1zM383 170h1v1h-1zM383 173h1v1h-1zM383 216h1v2h-1zM383 302h1v2h-1zM383 346h1v1h-1zM383 349h1v1h-1zM383 379h1v1h-1zM383 393h1v1h-1zM384 124h1v2h-1zM384 169h1v1h-1zM384 174h1v1h-1zM384 199h1v1h-1zM384 218h1v2h-1zM384 300h1v2h-1zM384 320h1v1h-1zM384 345h1v1h-1zM384 350h1v1h-1zM384 394h1v2h-1zM385 123h1v1h-1zM385 168h1v1h-1zM385 175h1v1h-1zM385 220h1v1h-1zM385 299h1v1h-1zM385 344h1v1h-1zM385 351h1v1h-1zM385 396h1v1h-1zM386 121h1v2h-1zM386 142h1v1h-1zM386 167h1v1h-1zM386 176h1v1h-1zM386 223h1v2h-1zM386 295h1v2h-1zM386 343h1v1h-1zM386 352h1v1h-1zM386 377h1v1h-1zM386 397h1v2h-1zM387 111h1v1h-1zM387 120h1v1h-1zM387 143h1v1h-1zM387 166h1v1h-1zM387 177h1v1h-1zM387 197h1v1h-1zM387 225h1v2h-1zM387 293h1v2h-1zM387 322h1v1h-1zM387 342h1v1h-1zM387 353h1v1h-1zM387 376h1v1h-1zM387 399h1v1h-1zM387 408h1v1h-1zM388 118h1v2h-1zM388 165h1v1h-1zM388 178h1v2h-1zM388 227h1v3h-1zM388 290h1v3h-1zM388 340h1v2h-1zM388 354h1v1h-1zM388 400h1v2h-1zM389 117h1v1h-1zM389 164h1v1h-1zM389 180h1v1h-1zM389 230h1v4h-1zM389 286h1v4h-1zM389 339h1v1h-1zM389 355h1v1h-1zM389 402h1v1h-1zM390 113h1v1h-1zM390 115h1v2h-1zM390 145h1v1h-1zM390 163h1v1h-1zM390 181h1v1h-1zM390 195h1v1h-1zM390 234h1v4h-1zM390 282h1v4h-1zM390 324h1v1h-1zM390 338h1v1h-1zM390 356h1v1h-1zM390 374h1v1h-1zM390 403h1v2h-1zM390 406h1v1h-1zM391 146h1v1h-1zM391 162h1v1h-1zM391 182h1v1h-1zM391 238h1v2h-1zM391 241h1v2h-1zM391 277h1v2h-1zM391 280h1v2h-1zM391 337h1v1h-1zM391 357h1v1h-1zM391 373h1v1h-1zM392 112h1v2h-1zM392 147h1v1h-1zM392 161h1v1h-1zM392 183h1v2h-1zM392 243h1v7h-1zM392 270h1v7h-1zM392 335h1v2h-1zM392 358h1v1h-1zM392 372h1v1h-1zM392 406h1v2h-1zM393 111h1v1h-1zM393 115h1v1h-1zM393 148h1v1h-1zM393 160h1v1h-1zM393 185h1v1h-1zM393 193h1v1h-1zM393 250h1v10h-1zM393 261h1v9h-1zM393 326h1v1h-1zM393 334h1v1h-1zM393 359h1v1h-1zM393 371h1v1h-1zM393 404h1v1h-1zM393 408h1v1h-1zM394 86h1v1h-1zM394 109h1v2h-1zM394 149h1v1h-1zM394 159h1v1h-1zM394 186h1v1h-1zM394 333h1v1h-1zM394 360h1v1h-1zM394 370h1v1h-1zM394 409h1v2h-1zM394 433h1v1h-1zM395 108h1v1h-1zM395 150h1v1h-1zM395 158h1v1h-1zM395 187h1v2h-1zM395 331h1v2h-1zM395 361h1v1h-1zM395 369h1v1h-1zM395 411h1v1h-1zM396 106h1v2h-1zM396 117h1v1h-1zM396 151h1v1h-1zM396 157h1v1h-1zM396 189h1v1h-1zM396 330h1v1h-1zM396 362h1v1h-1zM396 368h1v1h-1zM396 402h1v1h-1zM396 412h1v2h-1zM397 105h1v1h-1zM397 118h1v1h-1zM397 152h1v1h-1zM397 156h1v1h-1zM397 363h1v1h-1zM397 367h1v1h-1zM397 401h1v1h-1zM397 414h1v1h-1zM398 103h1v2h-1zM398 153h1v1h-1zM398 155h1v1h-1zM398 192h1v1h-1zM398 327h1v1h-1zM398 364h1v1h-1zM398 366h1v1h-1zM398 415h1v2h-1zM399 89h1v1h-1zM399 102h1v1h-1zM399 154h1v1h-1zM399 189h1v1h-1zM399 193h1v2h-1zM399 325h1v2h-1zM399 330h1v1h-1zM399 365h1v1h-1zM399 417h1v1h-1zM399 430h1v1h-1zM400 100h1v2h-1zM400 120h1v1h-1zM400 153h1v1h-1zM400 155h1v1h-1zM400 195h1v1h-1zM400 324h1v1h-1zM400 364h1v1h-1zM400 366h1v1h-1zM400 399h1v1h-1zM400 418h1v2h-1zM401 99h1v1h-1zM401 121h1v1h-1zM401 152h1v1h-1zM401 156h1v1h-1zM401 196h1v2h-1zM401 322h1v2h-1zM401 363h1v1h-1zM401 367h1v1h-1zM401 398h1v1h-1zM401 420h1v1h-1zM402 91h1v1h-1zM402 97h1v2h-1zM402 151h1v1h-1zM402 157h1v1h-1zM402 187h1v1h-1zM402 198h1v2h-1zM402 320h1v2h-1zM402 332h1v1h-1zM402 362h1v1h-1zM402 368h1v1h-1zM402 421h1v2h-1zM402 428h1v1h-1zM403 96h1v1h-1zM403 150h1v1h-1zM403 158h1v1h-1zM403 200h1v2h-1zM403 318h1v2h-1zM403 361h1v1h-1zM403 369h1v1h-1zM403 423h1v1h-1zM404 94h1v2h-1zM404 123h1v1h-1zM404 149h1v1h-1zM404 159h1v1h-1zM404 202h1v2h-1zM404 316h1v2h-1zM404 360h1v1h-1zM404 370h1v1h-1zM404 396h1v1h-1zM404 424h1v2h-1zM405 93h1v1h-1zM405 124h1v1h-1zM405 148h1v1h-1zM405 160h1v1h-1zM405 185h1v1h-1zM405 204h1v2h-1zM405 314h1v2h-1zM405 334h1v1h-1zM405 359h1v1h-1zM405 371h1v1h-1zM405 395h1v1h-1zM405 426h1v1h-1zM406 125h1v1h-1zM406 147h1v1h-1zM406 161h1v1h-1zM406 206h1v2h-1zM406 312h1v2h-1zM406 358h1v1h-1zM406 372h1v1h-1zM406 394h1v1h-1zM407 146h1v1h-1zM407 162h1v1h-1zM407 208h1v2h-1zM407 310h1v2h-1zM407 357h1v1h-1zM407 373h1v1h-1zM408 95h1v1h-1zM408 145h1v1h-1zM408 163h1v1h-1zM408 183h1v1h-1zM408 210h1v2h-1zM408 308h1v2h-1zM408 336h1v1h-1zM408 356h1v1h-1zM408 374h1v1h-1zM408 424h1v1h-1zM409 127h1v1h-1zM409 144h1v1h-1zM409 164h1v2h-1zM409 213h1v2h-1zM409 305h1v2h-1zM409 354h1v2h-1zM409 375h1v1h-1zM409 392h1v1h-1zM410 128h1v1h-1zM410 143h1v1h-1zM410 166h1v1h-1zM410 215h1v2h-1zM410 303h1v2h-1zM410 353h1v1h-1zM410 376h1v1h-1zM410 391h1v1h-1zM411 97h1v1h-1zM411 129h1v1h-1zM411 142h1v1h-1zM411 167h1v1h-1zM411 181h1v1h-1zM411 217h1v3h-1zM411 300h1v3h-1zM411 338h1v1h-1zM411 352h1v1h-1zM411 377h1v1h-1zM411 390h1v1h-1zM411 422h1v1h-1zM412 98h1v1h-1zM412 130h1v1h-1zM412 141h1v1h-1zM412 168h1v2h-1zM412 220h1v3h-1zM412 297h1v3h-1zM412 350h1v2h-1zM412 378h1v1h-1zM412 389h1v1h-1zM412 421h1v1h-1zM413 131h1v1h-1zM413 140h1v1h-1zM413 170h1v1h-1zM413 223h1v4h-1zM413 293h1v4h-1zM413 349h1v1h-1zM413 379h1v1h-1zM413 388h1v1h-1zM414 132h1v1h-1zM414 139h1v1h-1zM414 171h1v1h-1zM414 179h1v1h-1zM414 227h1v4h-1zM414 289h1v4h-1zM414 340h1v1h-1zM414 348h1v1h-1zM414 380h1v1h-1zM414 387h1v1h-1zM415 100h1v1h-1zM415 133h1v1h-1zM415 138h1v1h-1zM415 172h1v2h-1zM415 231h1v4h-1zM415 285h1v4h-1zM415 346h1v2h-1zM415 381h1v1h-1zM415 386h1v1h-1zM415 419h1v1h-1zM416 101h1v1h-1zM416 134h1v1h-1zM416 137h1v1h-1zM416 174h1v1h-1zM416 236h1v5h-1zM416 279h1v5h-1zM416 345h1v1h-1zM416 382h1v1h-1zM416 385h1v1h-1zM416 418h1v1h-1zM417 175h1v1h-1zM417 241h1v8h-1zM417 271h1v8h-1zM417 344h1v1h-1zM418 249h1v11h-1zM418 261h1v10h-1zM419 103h1v1h-1zM419 134h1v1h-1zM419 137h1v1h-1zM419 178h1v2h-1zM419 340h1v2h-1zM419 382h1v1h-1zM419 385h1v1h-1zM419 416h1v1h-1zM420 104h1v1h-1zM420 133h1v1h-1zM420 138h1v1h-1zM420 175h1v1h-1zM420 180h1v1h-1zM420 339h1v1h-1zM420 344h1v1h-1zM420 381h1v1h-1zM420 386h1v1h-1zM420 415h1v1h-1zM421 105h1v1h-1zM421 132h1v1h-1zM421 139h1v1h-1zM421 181h1v2h-1zM421 337h1v2h-1zM421 380h1v1h-1zM421 387h1v1h-1zM421 414h1v1h-1zM422 131h1v1h-1zM422 140h1v1h-1zM422 183h1v1h-1zM422 336h1v1h-1zM422 379h1v1h-1zM422 388h1v1h-1zM423 130h1v1h-1zM423 141h1v1h-1zM423 173h1v1h-1zM423 184h1v2h-1zM423 334h1v2h-1zM423 346h1v1h-1zM423 378h1v1h-1zM423 389h1v1h-1zM424 107h1v1h-1zM424 129h1v1h-1zM424 142h1v1h-1zM424 172h1v1h-1zM424 186h1v2h-1zM424 332h1v2h-1zM424 347h1v1h-1zM424 377h1v1h-1zM424 390h1v1h-1zM424 412h1v1h-1zM425 108h1v1h-1zM425 128h1v1h-1zM425 143h1v1h-1zM425 188h1v2h-1zM425 330h1v2h-1zM425 376h1v1h-1zM425 391h1v1h-1zM425 411h1v1h-1zM426 109h1v1h-1zM426 127h1v1h-1zM426 144h1v1h-1zM426 190h1v2h-1zM426 328h1v2h-1zM426 375h1v1h-1zM426 392h1v1h-1zM426 410h1v1h-1zM427 110h1v1h-1zM427 126h1v1h-1zM427 145h1v2h-1zM427 170h1v1h-1zM427 192h1v2h-1zM427 326h1v2h-1zM427 349h1v1h-1zM427 373h1v2h-1zM427 393h1v1h-1zM427 409h1v1h-1zM428 111h1v1h-1zM428 125h1v1h-1zM428 147h1v1h-1zM428 194h1v2h-1zM428 324h1v2h-1zM428 372h1v1h-1zM428 394h1v1h-1zM428 408h1v1h-1zM429 112h1v1h-1zM429 124h1v1h-1zM429 148h1v1h-1zM429 196h1v2h-1zM429 322h1v2h-1zM429 371h1v1h-1zM429 395h1v1h-1zM429 407h1v1h-1zM430 113h1v1h-1zM430 123h1v1h-1zM430 149h1v1h-1zM430 168h1v1h-1zM430 198h1v2h-1zM430 320h1v2h-1zM430 351h1v1h-1zM430 370h1v1h-1zM430 396h1v1h-1zM430 406h1v1h-1zM431 114h1v1h-1zM431 122h1v1h-1zM431 150h1v2h-1zM431 200h1v2h-1zM431 318h1v2h-1zM431 368h1v2h-1zM431 397h1v1h-1zM431 405h1v1h-1zM432 121h1v1h-1zM432 152h1v1h-1zM432 204h1v1h-1zM432 315h1v1h-1zM432 367h1v1h-1zM432 398h1v1h-1zM433 120h1v1h-1zM433 153h1v1h-1zM433 166h1v1h-1zM433 205h1v3h-1zM433 312h1v3h-1zM433 353h1v1h-1zM433 366h1v1h-1zM433 399h1v1h-1zM434 116h1v1h-1zM434 119h1v1h-1zM434 154h1v2h-1zM434 208h1v2h-1zM434 310h1v2h-1zM434 364h1v2h-1zM434 400h1v1h-1zM434 403h1v1h-1zM435 117h1v1h-1zM435 156h1v1h-1zM435 210h1v3h-1zM435 307h1v3h-1zM435 363h1v1h-1zM435 402h1v1h-1zM436 157h1v1h-1zM436 164h1v1h-1zM436 213h1v3h-1zM436 304h1v3h-1zM436 355h1v1h-1zM436 362h1v1h-1zM437 119h1v1h-1zM437 158h1v2h-1zM437 216h1v4h-1zM437 300h1v4h-1zM437 360h1v2h-1zM437 400h1v1h-1zM438 120h1v2h-1zM438 160h1v1h-1zM438 220h1v4h-1zM438 296h1v4h-1zM438 359h1v1h-1zM438 398h1v2h-1zM439 122h1v1h-1zM439 162h1v1h-1zM439 224h1v4h-1zM439 292h1v4h-1zM439 357h1v1h-1zM439 397h1v1h-1zM440 123h1v1h-1zM440 163h1v1h-1zM440 228h1v2h-1zM440 231h1v2h-1zM440 287h1v2h-1zM440 290h1v2h-1zM440 356h1v1h-1zM440 396h1v1h-1zM441 124h1v1h-1zM441 164h1v2h-1zM441 233h1v6h-1zM441 281h1v6h-1zM441 354h1v2h-1zM441 395h1v1h-1zM442 125h1v1h-1zM442 160h1v1h-1zM442 166h1v1h-1zM442 239h1v9h-1zM442 272h1v9h-1zM442 353h1v1h-1zM442 359h1v1h-1zM442 394h1v1h-1zM443 126h1v1h-1zM443 167h1v2h-1zM443 248h1v12h-1zM443 261h1v11h-1zM443 351h1v2h-1zM443 393h1v1h-1zM444 127h1v1h-1zM444 169h1v2h-1zM444 349h1v2h-1zM444 392h1v1h-1zM445 128h1v1h-1zM445 158h1v1h-1zM445 171h1v1h-1zM445 348h1v1h-1zM445 361h1v1h-1zM445 391h1v1h-1zM446 129h1v1h-1zM446 172h1v2h-1zM446 346h1v2h-1zM446 390h1v1h-1zM447 130h1v2h-1zM447 174h1v2h-1zM447 344h1v2h-1zM447 388h1v2h-1zM448 132h1v1h-1zM448 156h1v1h-1zM448 176h1v2h-1zM448 342h1v2h-1zM448 363h1v1h-1zM448 387h1v1h-1zM449 133h1v1h-1zM449 178h1v2h-1zM449 340h1v2h-1zM449 386h1v1h-1zM450 134h1v1h-1zM450 180h1v2h-1zM450 338h1v2h-1zM450 385h1v1h-1zM451 135h1v2h-1zM451 154h1v1h-1zM451 182h1v2h-1zM451 336h1v2h-1zM451 365h1v1h-1zM451 383h1v2h-1zM452 137h1v1h-1zM452 184h1v2h-1zM452 334h1v2h-1zM452 382h1v1h-1zM453 138h1v1h-1zM453 186h1v2h-1zM453 332h1v2h-1zM453 381h1v1h-1zM454 139h1v2h-1zM454 152h1v1h-1zM454 188h1v2h-1zM454 330h1v2h-1zM454 367h1v1h-1zM454 379h1v2h-1zM455 141h1v1h-1zM455 190h1v2h-1zM455 328h1v2h-1zM455 378h1v1h-1zM456 142h1v1h-1zM456 194h1v1h-1zM456 325h1v1h-1zM456 377h1v1h-1zM457 143h1v2h-1zM457 150h1v1h-1zM457 195h1v3h-1zM457 322h1v3h-1zM457 369h1v1h-1zM457 375h1v2h-1zM458 145h1v1h-1zM458 198h1v2h-1zM458 320h1v2h-1zM458 374h1v1h-1zM459 146h1v2h-1zM459 200h1v3h-1zM459 317h1v3h-1zM459 372h1v2h-1zM460 148h1v1h-1zM460 203h1v3h-1zM460 314h1v3h-1zM460 371h1v1h-1zM461 149h1v2h-1zM461 206h1v3h-1zM461 311h1v3h-1zM461 369h1v2h-1zM462 151h1v1h-1zM462 209h1v4h-1zM462 307h1v4h-1zM462 368h1v1h-1zM463 152h1v2h-1zM463 213h1v3h-1zM463 304h1v3h-1zM463 366h1v2h-1zM464 154h1v1h-1zM464 216h1v5h-1zM464 299h1v5h-1zM464 365h1v1h-1zM465 155h1v2h-1zM465 221h1v4h-1zM465 295h1v4h-1zM465 363h1v2h-1zM466 157h1v2h-1zM466 226h1v4h-1zM466 290h1v4h-1zM466 361h1v2h-1zM467 159h1v1h-1zM467 230h1v7h-1zM467 283h1v7h-1zM467 360h1v1h-1zM468 160h1v2h-1zM468 237h1v10h-1zM468 273h1v10h-1zM468 358h1v2h-1zM469 162h1v2h-1zM469 247h1v13h-1zM469 261h1v12h-1zM469 356h1v2h-1zM470 164h1v2h-1zM470 354h1v2h-1zM471 166h1v2h-1zM471 352h1v2h-1zM472 168h1v2h-1zM472 350h1v2h-1zM473 170h1v2h-1zM473 348h1v2h-1zM474 172h1v2h-1zM474 346h1v2h-1zM475 174h1v2h-1zM475 344h1v2h-1zM476 176h1v2h-1zM476 342h1v2h-1zM477 178h1v2h-1zM477 340h1v2h-1zM478 180h1v3h-1zM478 337h1v3h-1zM479 184h1v1h-1zM479 335h1v1h-1zM480 185h1v3h-1zM480 332h1v3h-1zM481 188h1v2h-1zM481 330h1v2h-1zM482 190h1v3h-1zM482 327h1v3h-1zM483 193h1v3h-1zM483 324h1v3h-1zM484 196h1v3h-1zM484 321h1v3h-1zM485 199h1v3h-1zM485 318h1v3h-1zM486 202h1v4h-1zM486 314h1v4h-1zM487 206h1v3h-1zM487 311h1v3h-1zM488 209h1v4h-1zM488 307h1v4h-1zM489 213h1v5h-1zM489 302h1v5h-1zM490 218h1v2h-1zM490 221h1v2h-1zM490 297h1v2h-1zM490 300h1v2h-1zM491 223h1v5h-1zM491 292h1v5h-1zM492 228h1v8h-1zM492 284h1v8h-1zM493 236h1v10h-1zM493 274h1v10h-1zM494 246h1v14h-1zM494 261h1v13h-1z"/>
<g font-family="Liberation Sans, sans-serif" font-size="11" text-anchor="middle" fill="#000" letter-spacing="0.3">
<text x="295.2" y="233">1,8</text>
<text x="295.2" y="208">3,7</text>
<text x="295.2" y="183">5,5</text>
<text x="295.2" y="158">7,4</text>
<text x="295.2" y="133">9,2</text>
<text x="295.2" y="108">11,1</text>
<text x="295.2" y="82">12,9</text>
<text x="295.2" y="57">14,7</text>
</g>
<!-- wind-rose sectors -->
<g stroke="#000" stroke-width="1" stroke-linejoin="bevel" shape-rendering="crispEdges">
<polygon points="294.00,260.00 293.23,252.04 294.77,252.04" fill="#FFFFC0"/>
<polygon points="293.23,252.04 292.42,243.58 295.58,243.58 294.77,252.04" fill="#FFFF00"/>
<polygon points="294.00,260.00 294.40,256.02 295.15,256.17" fill="#FFFFC0"/>
<polygon points="294.40,256.02 294.60,254.03 295.73,254.25 295.15,256.17" fill="#FFFF00"/>
<polygon points="294.00,260.00 295.17,256.17 295.88,256.47" fill="#FFFFC0"/>
<polygon points="295.17,256.17 295.46,255.22 296.35,255.59 295.88,256.47" fill="#FFFF00"/>
<polygon points="294.00,260.00 295.89,256.48 296.53,256.90" fill="#FFFFC0"/>
<polygon points="295.89,256.48 296.37,255.60 297.16,256.13 296.53,256.90" fill="#FFFF00"/>
<polygon points="294.00,260.00 297.18,256.14 297.86,256.82" fill="#FFFFC0"/>
<polygon points="297.18,256.14 299.09,253.83 300.17,254.91 297.86,256.82" fill="#FFFF00"/>
<polygon points="294.00,260.00 298.65,256.20 299.29,257.16" fill="#FFFFC0"/>
<polygon points="298.65,256.20 314.13,243.55 316.90,247.69 299.29,257.16" fill="#FFFF00"/>
<polygon points="294.00,260.00 299.30,257.18 299.74,258.25" fill="#FFFFC0"/>
<polygon points="299.30,257.18 321.37,245.45 323.65,250.94 299.74,258.25" fill="#FFFF00"/>
<polygon points="294.00,260.00 298.79,258.56 298.97,259.50" fill="#FFFFC0"/>
<polygon points="298.79,258.56 308.36,255.68 308.92,258.50 298.97,259.50" fill="#FFFF00"/>
<polygon points="294.00,260.00 296.99,259.71 296.99,260.29" fill="#FFFFC0"/>
<polygon points="296.99,259.71 321.47,257.35 321.47,262.65 296.99,260.29" fill="#FFFF00"/>
<polygon points="321.47,257.35 323.46,257.16 323.46,262.84 321.47,262.65" fill="#00FF00"/>
<polygon points="294.00,260.00 296.98,260.30 296.87,260.86" fill="#FFFFC0"/>
<polygon points="296.98,260.30 370.61,267.71 367.73,282.19 296.87,260.86" fill="#FFFF00"/>
<polygon points="370.61,267.71 398.47,270.52 394.54,290.26 367.73,282.19" fill="#00FF00"/>
<polygon points="294.00,260.00 313.13,265.85 311.66,269.39" fill="#FFFFC0"/>
<polygon points="313.13,265.85 369.07,282.95 363.31,296.85 311.66,269.39" fill="#FFFF00"/>
<polygon points="369.07,282.95 485.74,318.62 471.03,354.13 363.31,296.85" fill="#00FF00"/>
<polygon points="294.00,260.00 301.05,263.79 300.20,265.06" fill="#FFFFC0"/>
<polygon points="301.05,263.79 351.70,291.00 344.72,301.44 300.20,265.06" fill="#FFFF00"/>
<polygon points="351.70,291.00 393.54,313.49 381.51,331.50 344.72,301.44" fill="#00FF00"/>
<polygon points="294.00,260.00 317.92,279.72 313.72,283.92" fill="#FFFFC0"/>
<polygon points="317.92,279.72 363.45,317.25 351.25,329.45 313.72,283.92" fill="#FFFF00"/>
<polygon points="363.45,317.25 371.93,324.24 358.24,337.93 351.25,329.45" fill="#00FF00"/>
<polygon points="294.00,260.00 302.23,270.07 300.15,271.45" fill="#FFFFC0"/>
<polygon points="302.23,270.07 352.21,331.24 337.55,341.04 300.15,271.45" fill="#FFFF00"/>
<polygon points="352.21,331.24 371.19,354.48 351.74,367.47 337.55,341.04" fill="#00FF00"/>
<polygon points="294.00,260.00 298.69,268.83 296.92,269.56" fill="#FFFFC0"/>
<polygon points="298.69,268.83 306.68,283.84 301.89,285.82 296.92,269.56" fill="#FFFF00"/>
<polygon points="294.00,260.00 295.73,265.75 294.60,265.97" fill="#FFFFC0"/>
<polygon points="294.00,260.00 294.48,264.98 293.52,264.98" fill="#FFFFC0"/>
<polygon points="294.00,260.00 293.50,264.97 292.56,264.79" fill="#FFFFC0"/>
<polygon points="294.00,260.00 290.64,271.00 288.60,270.15" fill="#FFFFC0"/>
<polygon points="294.00,260.00 291.16,265.29 290.20,264.65" fill="#FFFFC0"/>
<polygon points="294.00,260.00 288.91,266.17 287.83,265.09" fill="#FFFFC0"/>
<polygon points="294.00,260.00 280.84,270.76 279.02,268.05" fill="#FFFFC0"/>
<polygon points="280.84,270.76 278.51,272.65 276.38,269.47 279.02,268.05" fill="#FFFF00"/>
<polygon points="294.00,260.00 266.63,274.55 264.35,269.06" fill="#FFFFC0"/>
<polygon points="266.63,274.55 263.10,276.43 260.53,270.23 264.35,269.06" fill="#FFFF00"/>
<polygon points="294.00,260.00 239.90,276.28 237.78,265.66" fill="#FFFFC0"/>
<polygon points="239.90,276.28 233.19,278.30 230.82,266.36 237.78,265.66" fill="#FFFF00"/>
<polygon points="294.00,260.00 228.50,266.31 228.50,253.69" fill="#FFFFC0"/>
<polygon points="228.50,266.31 211.48,267.95 211.48,252.05 228.50,253.69" fill="#FFFF00"/>
<polygon points="294.00,260.00 260.17,256.59 261.44,250.20" fill="#FFFFC0"/>
<polygon points="260.17,256.59 247.24,255.29 248.99,246.45 261.44,250.20" fill="#FFFF00"/>
<polygon points="294.00,260.00 263.40,250.64 265.75,244.98" fill="#FFFFC0"/>
<polygon points="263.40,250.64 236.62,242.46 241.02,231.83 265.75,244.98" fill="#FFFF00"/>
<polygon points="236.62,242.46 234.71,241.87 239.26,230.89 241.02,231.83" fill="#00FF00"/>
<polygon points="294.00,260.00 277.26,251.01 279.29,247.98" fill="#FFFFC0"/>
<polygon points="277.26,251.01 234.10,227.81 241.34,216.98 279.29,247.98" fill="#FFFF00"/>
<polygon points="234.10,227.81 226.17,223.55 234.37,211.28 241.34,216.98" fill="#00FF00"/>
<polygon points="294.00,260.00 283.97,251.73 285.73,249.97" fill="#FFFFC0"/>
<polygon points="283.97,251.73 270.08,240.28 274.28,236.08 285.73,249.97" fill="#FFFF00"/>
<polygon points="294.00,260.00 287.67,252.26 289.27,251.19" fill="#FFFFC0"/>
<polygon points="287.67,252.26 271.86,232.90 277.43,229.17 289.27,251.19" fill="#FFFF00"/>
<polygon points="294.00,260.00 290.71,253.82 291.95,253.31" fill="#FFFFC0"/>
<polygon points="290.71,253.82 289.77,252.05 291.37,251.39 291.95,253.31" fill="#FFFF00"/>
<polygon points="294.00,260.00 288.81,242.76 292.20,242.09" fill="#FFFFC0"/>
<polygon points="288.81,242.76 284.78,229.36 290.79,228.16 292.20,242.09" fill="#FFFF00"/>
<polygon points="294.5,257 297.5,260 294.5,263" fill="#FFFFC0" stroke="none"/>
</g>
</svg>
<div class="card" style="left:291.5px;top:29px">N</div>
<div class="card" style="left:290.5px;top:481.5px">S</div>
<div class="card" style="left:53.5px;top:257px">W</div>
<div class="card" style="left:526.5px;top:257px">E</div>
<div class="lb" style="top:43px;background:#FFFFC0"></div>
<div class="lt" style="top:47px">a 7,4 km/h<br>Ventolina</div>
<div class="lb" style="top:89px;background:#FFFF00"></div>
<div class="lt" style="top:93px">a 12,9 km/h<br>Flojito</div>
<div class="lb" style="top:135px;background:#00FF00"></div>
<div class="lt" style="top:139px">a 20,4 km/h<br>Flojo</div>
<div class="lb" style="top:181px;background:#FF8000"></div>
<div class="lt" style="top:185px">a 29,6 km/h<br>Bonancible</div>
<div class="lb" style="top:227px;background:#FF0000"></div>
<div class="lt" style="top:231px">a 38,9 km/h<br>Fresquito</div>
<div class="lb" style="top:273px;background:#8B008B"></div>
<div class="lt" style="top:277px">a 50,0 km/h<br>Fresco</div>
<div class="lb" style="top:319px;background:#666765"></div>
<div class="lt" style="top:323px">a 63,0 km/h<br>Frescachón</div>
<div class="lb" style="top:365px;background:#242326"></div>
<div class="lt" style="top:369px">más de 63,0 km/h<br>Temporal</div>
<div id="date">ene 2012</div>
</body></html>
